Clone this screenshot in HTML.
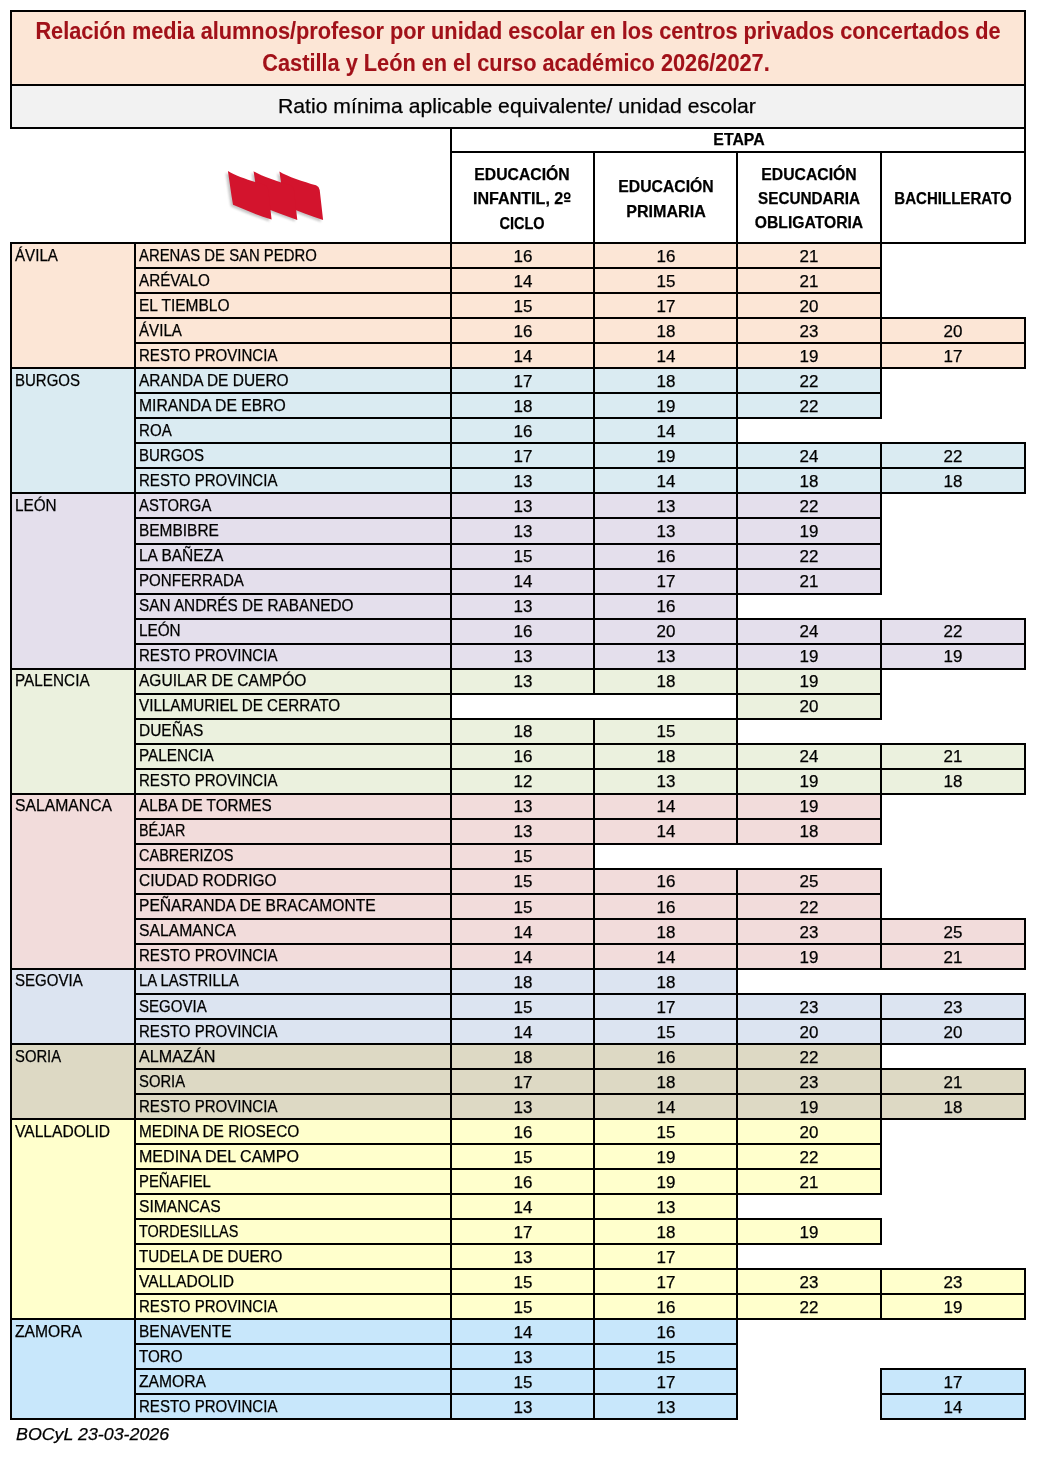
<!DOCTYPE html><html><head><meta charset="utf-8"><style>
html,body{margin:0;padding:0;background:#fff}
#p{position:relative;width:1043px;height:1457px;overflow:hidden;background:#fff;font-family:"Liberation Sans",sans-serif}
#p div{position:absolute}
#l div{background:#000}
.t{white-space:nowrap;color:#000;-webkit-text-stroke:0.25px currentColor}
</style></head><body><div id="p">
<div style="left:10px;top:10px;width:1016px;height:76px;background:#FCE6D6"></div><div style="left:10px;top:86px;width:1016px;height:43px;background:#F2F2F2"></div><div style="left:10px;top:242px;width:126px;height:127px;background:#FCE6D6"></div><div style="left:134px;top:242px;width:318px;height:27px;background:#FCE6D6"></div><div style="left:450px;top:242px;width:145px;height:27px;background:#FCE6D6"></div><div style="left:593px;top:242px;width:145px;height:27px;background:#FCE6D6"></div><div style="left:736px;top:242px;width:146px;height:27px;background:#FCE6D6"></div><div style="left:134px;top:267px;width:318px;height:27px;background:#FCE6D6"></div><div style="left:450px;top:267px;width:145px;height:27px;background:#FCE6D6"></div><div style="left:593px;top:267px;width:145px;height:27px;background:#FCE6D6"></div><div style="left:736px;top:267px;width:146px;height:27px;background:#FCE6D6"></div><div style="left:134px;top:292px;width:318px;height:27px;background:#FCE6D6"></div><div style="left:450px;top:292px;width:145px;height:27px;background:#FCE6D6"></div><div style="left:593px;top:292px;width:145px;height:27px;background:#FCE6D6"></div><div style="left:736px;top:292px;width:146px;height:27px;background:#FCE6D6"></div><div style="left:134px;top:317px;width:318px;height:27px;background:#FCE6D6"></div><div style="left:450px;top:317px;width:145px;height:27px;background:#FCE6D6"></div><div style="left:593px;top:317px;width:145px;height:27px;background:#FCE6D6"></div><div style="left:736px;top:317px;width:146px;height:27px;background:#FCE6D6"></div><div style="left:880px;top:317px;width:146px;height:27px;background:#FCE6D6"></div><div style="left:134px;top:342px;width:318px;height:27px;background:#FCE6D6"></div><div style="left:450px;top:342px;width:145px;height:27px;background:#FCE6D6"></div><div style="left:593px;top:342px;width:145px;height:27px;background:#FCE6D6"></div><div style="left:736px;top:342px;width:146px;height:27px;background:#FCE6D6"></div><div style="left:880px;top:342px;width:146px;height:27px;background:#FCE6D6"></div><div style="left:10px;top:367px;width:126px;height:127px;background:#DAEBF2"></div><div style="left:134px;top:367px;width:318px;height:27px;background:#DAEBF2"></div><div style="left:450px;top:367px;width:145px;height:27px;background:#DAEBF2"></div><div style="left:593px;top:367px;width:145px;height:27px;background:#DAEBF2"></div><div style="left:736px;top:367px;width:146px;height:27px;background:#DAEBF2"></div><div style="left:134px;top:392px;width:318px;height:27px;background:#DAEBF2"></div><div style="left:450px;top:392px;width:145px;height:27px;background:#DAEBF2"></div><div style="left:593px;top:392px;width:145px;height:27px;background:#DAEBF2"></div><div style="left:736px;top:392px;width:146px;height:27px;background:#DAEBF2"></div><div style="left:134px;top:417px;width:318px;height:27px;background:#DAEBF2"></div><div style="left:450px;top:417px;width:145px;height:27px;background:#DAEBF2"></div><div style="left:593px;top:417px;width:145px;height:27px;background:#DAEBF2"></div><div style="left:134px;top:442px;width:318px;height:27px;background:#DAEBF2"></div><div style="left:450px;top:442px;width:145px;height:27px;background:#DAEBF2"></div><div style="left:593px;top:442px;width:145px;height:27px;background:#DAEBF2"></div><div style="left:736px;top:442px;width:146px;height:27px;background:#DAEBF2"></div><div style="left:880px;top:442px;width:146px;height:27px;background:#DAEBF2"></div><div style="left:134px;top:467px;width:318px;height:27px;background:#DAEBF2"></div><div style="left:450px;top:467px;width:145px;height:27px;background:#DAEBF2"></div><div style="left:593px;top:467px;width:145px;height:27px;background:#DAEBF2"></div><div style="left:736px;top:467px;width:146px;height:27px;background:#DAEBF2"></div><div style="left:880px;top:467px;width:146px;height:27px;background:#DAEBF2"></div><div style="left:10px;top:492px;width:126px;height:178px;background:#E4DFEC"></div><div style="left:134px;top:492px;width:318px;height:27px;background:#E4DFEC"></div><div style="left:450px;top:492px;width:145px;height:27px;background:#E4DFEC"></div><div style="left:593px;top:492px;width:145px;height:27px;background:#E4DFEC"></div><div style="left:736px;top:492px;width:146px;height:27px;background:#E4DFEC"></div><div style="left:134px;top:517px;width:318px;height:28px;background:#E4DFEC"></div><div style="left:450px;top:517px;width:145px;height:28px;background:#E4DFEC"></div><div style="left:593px;top:517px;width:145px;height:28px;background:#E4DFEC"></div><div style="left:736px;top:517px;width:146px;height:28px;background:#E4DFEC"></div><div style="left:134px;top:543px;width:318px;height:27px;background:#E4DFEC"></div><div style="left:450px;top:543px;width:145px;height:27px;background:#E4DFEC"></div><div style="left:593px;top:543px;width:145px;height:27px;background:#E4DFEC"></div><div style="left:736px;top:543px;width:146px;height:27px;background:#E4DFEC"></div><div style="left:134px;top:568px;width:318px;height:27px;background:#E4DFEC"></div><div style="left:450px;top:568px;width:145px;height:27px;background:#E4DFEC"></div><div style="left:593px;top:568px;width:145px;height:27px;background:#E4DFEC"></div><div style="left:736px;top:568px;width:146px;height:27px;background:#E4DFEC"></div><div style="left:134px;top:593px;width:318px;height:27px;background:#E4DFEC"></div><div style="left:450px;top:593px;width:145px;height:27px;background:#E4DFEC"></div><div style="left:593px;top:593px;width:145px;height:27px;background:#E4DFEC"></div><div style="left:134px;top:618px;width:318px;height:27px;background:#E4DFEC"></div><div style="left:450px;top:618px;width:145px;height:27px;background:#E4DFEC"></div><div style="left:593px;top:618px;width:145px;height:27px;background:#E4DFEC"></div><div style="left:736px;top:618px;width:146px;height:27px;background:#E4DFEC"></div><div style="left:880px;top:618px;width:146px;height:27px;background:#E4DFEC"></div><div style="left:134px;top:643px;width:318px;height:27px;background:#E4DFEC"></div><div style="left:450px;top:643px;width:145px;height:27px;background:#E4DFEC"></div><div style="left:593px;top:643px;width:145px;height:27px;background:#E4DFEC"></div><div style="left:736px;top:643px;width:146px;height:27px;background:#E4DFEC"></div><div style="left:880px;top:643px;width:146px;height:27px;background:#E4DFEC"></div><div style="left:10px;top:668px;width:126px;height:127px;background:#EBF1DE"></div><div style="left:134px;top:668px;width:318px;height:27px;background:#EBF1DE"></div><div style="left:450px;top:668px;width:145px;height:27px;background:#EBF1DE"></div><div style="left:593px;top:668px;width:145px;height:27px;background:#EBF1DE"></div><div style="left:736px;top:668px;width:146px;height:27px;background:#EBF1DE"></div><div style="left:134px;top:693px;width:318px;height:27px;background:#EBF1DE"></div><div style="left:736px;top:693px;width:146px;height:27px;background:#EBF1DE"></div><div style="left:134px;top:718px;width:318px;height:27px;background:#EBF1DE"></div><div style="left:450px;top:718px;width:145px;height:27px;background:#EBF1DE"></div><div style="left:593px;top:718px;width:145px;height:27px;background:#EBF1DE"></div><div style="left:134px;top:743px;width:318px;height:27px;background:#EBF1DE"></div><div style="left:450px;top:743px;width:145px;height:27px;background:#EBF1DE"></div><div style="left:593px;top:743px;width:145px;height:27px;background:#EBF1DE"></div><div style="left:736px;top:743px;width:146px;height:27px;background:#EBF1DE"></div><div style="left:880px;top:743px;width:146px;height:27px;background:#EBF1DE"></div><div style="left:134px;top:768px;width:318px;height:27px;background:#EBF1DE"></div><div style="left:450px;top:768px;width:145px;height:27px;background:#EBF1DE"></div><div style="left:593px;top:768px;width:145px;height:27px;background:#EBF1DE"></div><div style="left:736px;top:768px;width:146px;height:27px;background:#EBF1DE"></div><div style="left:880px;top:768px;width:146px;height:27px;background:#EBF1DE"></div><div style="left:10px;top:793px;width:126px;height:177px;background:#F2DCDB"></div><div style="left:134px;top:793px;width:318px;height:27px;background:#F2DCDB"></div><div style="left:450px;top:793px;width:145px;height:27px;background:#F2DCDB"></div><div style="left:593px;top:793px;width:145px;height:27px;background:#F2DCDB"></div><div style="left:736px;top:793px;width:146px;height:27px;background:#F2DCDB"></div><div style="left:134px;top:818px;width:318px;height:27px;background:#F2DCDB"></div><div style="left:450px;top:818px;width:145px;height:27px;background:#F2DCDB"></div><div style="left:593px;top:818px;width:145px;height:27px;background:#F2DCDB"></div><div style="left:736px;top:818px;width:146px;height:27px;background:#F2DCDB"></div><div style="left:134px;top:843px;width:318px;height:27px;background:#F2DCDB"></div><div style="left:450px;top:843px;width:145px;height:27px;background:#F2DCDB"></div><div style="left:134px;top:868px;width:318px;height:27px;background:#F2DCDB"></div><div style="left:450px;top:868px;width:145px;height:27px;background:#F2DCDB"></div><div style="left:593px;top:868px;width:145px;height:27px;background:#F2DCDB"></div><div style="left:736px;top:868px;width:146px;height:27px;background:#F2DCDB"></div><div style="left:134px;top:893px;width:318px;height:27px;background:#F2DCDB"></div><div style="left:450px;top:893px;width:145px;height:27px;background:#F2DCDB"></div><div style="left:593px;top:893px;width:145px;height:27px;background:#F2DCDB"></div><div style="left:736px;top:893px;width:146px;height:27px;background:#F2DCDB"></div><div style="left:134px;top:918px;width:318px;height:27px;background:#F2DCDB"></div><div style="left:450px;top:918px;width:145px;height:27px;background:#F2DCDB"></div><div style="left:593px;top:918px;width:145px;height:27px;background:#F2DCDB"></div><div style="left:736px;top:918px;width:146px;height:27px;background:#F2DCDB"></div><div style="left:880px;top:918px;width:146px;height:27px;background:#F2DCDB"></div><div style="left:134px;top:943px;width:318px;height:27px;background:#F2DCDB"></div><div style="left:450px;top:943px;width:145px;height:27px;background:#F2DCDB"></div><div style="left:593px;top:943px;width:145px;height:27px;background:#F2DCDB"></div><div style="left:736px;top:943px;width:146px;height:27px;background:#F2DCDB"></div><div style="left:880px;top:943px;width:146px;height:27px;background:#F2DCDB"></div><div style="left:10px;top:968px;width:126px;height:77px;background:#DCE4F1"></div><div style="left:134px;top:968px;width:318px;height:27px;background:#DCE4F1"></div><div style="left:450px;top:968px;width:145px;height:27px;background:#DCE4F1"></div><div style="left:593px;top:968px;width:145px;height:27px;background:#DCE4F1"></div><div style="left:134px;top:993px;width:318px;height:27px;background:#DCE4F1"></div><div style="left:450px;top:993px;width:145px;height:27px;background:#DCE4F1"></div><div style="left:593px;top:993px;width:145px;height:27px;background:#DCE4F1"></div><div style="left:736px;top:993px;width:146px;height:27px;background:#DCE4F1"></div><div style="left:880px;top:993px;width:146px;height:27px;background:#DCE4F1"></div><div style="left:134px;top:1018px;width:318px;height:27px;background:#DCE4F1"></div><div style="left:450px;top:1018px;width:145px;height:27px;background:#DCE4F1"></div><div style="left:593px;top:1018px;width:145px;height:27px;background:#DCE4F1"></div><div style="left:736px;top:1018px;width:146px;height:27px;background:#DCE4F1"></div><div style="left:880px;top:1018px;width:146px;height:27px;background:#DCE4F1"></div><div style="left:10px;top:1043px;width:126px;height:77px;background:#DDD9C4"></div><div style="left:134px;top:1043px;width:318px;height:27px;background:#DDD9C4"></div><div style="left:450px;top:1043px;width:145px;height:27px;background:#DDD9C4"></div><div style="left:593px;top:1043px;width:145px;height:27px;background:#DDD9C4"></div><div style="left:736px;top:1043px;width:146px;height:27px;background:#DDD9C4"></div><div style="left:134px;top:1068px;width:318px;height:27px;background:#DDD9C4"></div><div style="left:450px;top:1068px;width:145px;height:27px;background:#DDD9C4"></div><div style="left:593px;top:1068px;width:145px;height:27px;background:#DDD9C4"></div><div style="left:736px;top:1068px;width:146px;height:27px;background:#DDD9C4"></div><div style="left:880px;top:1068px;width:146px;height:27px;background:#DDD9C4"></div><div style="left:134px;top:1093px;width:318px;height:27px;background:#DDD9C4"></div><div style="left:450px;top:1093px;width:145px;height:27px;background:#DDD9C4"></div><div style="left:593px;top:1093px;width:145px;height:27px;background:#DDD9C4"></div><div style="left:736px;top:1093px;width:146px;height:27px;background:#DDD9C4"></div><div style="left:880px;top:1093px;width:146px;height:27px;background:#DDD9C4"></div><div style="left:10px;top:1118px;width:126px;height:202px;background:#FFFFCC"></div><div style="left:134px;top:1118px;width:318px;height:27px;background:#FFFFCC"></div><div style="left:450px;top:1118px;width:145px;height:27px;background:#FFFFCC"></div><div style="left:593px;top:1118px;width:145px;height:27px;background:#FFFFCC"></div><div style="left:736px;top:1118px;width:146px;height:27px;background:#FFFFCC"></div><div style="left:134px;top:1143px;width:318px;height:27px;background:#FFFFCC"></div><div style="left:450px;top:1143px;width:145px;height:27px;background:#FFFFCC"></div><div style="left:593px;top:1143px;width:145px;height:27px;background:#FFFFCC"></div><div style="left:736px;top:1143px;width:146px;height:27px;background:#FFFFCC"></div><div style="left:134px;top:1168px;width:318px;height:27px;background:#FFFFCC"></div><div style="left:450px;top:1168px;width:145px;height:27px;background:#FFFFCC"></div><div style="left:593px;top:1168px;width:145px;height:27px;background:#FFFFCC"></div><div style="left:736px;top:1168px;width:146px;height:27px;background:#FFFFCC"></div><div style="left:134px;top:1193px;width:318px;height:27px;background:#FFFFCC"></div><div style="left:450px;top:1193px;width:145px;height:27px;background:#FFFFCC"></div><div style="left:593px;top:1193px;width:145px;height:27px;background:#FFFFCC"></div><div style="left:134px;top:1218px;width:318px;height:27px;background:#FFFFCC"></div><div style="left:450px;top:1218px;width:145px;height:27px;background:#FFFFCC"></div><div style="left:593px;top:1218px;width:145px;height:27px;background:#FFFFCC"></div><div style="left:736px;top:1218px;width:146px;height:27px;background:#FFFFCC"></div><div style="left:134px;top:1243px;width:318px;height:27px;background:#FFFFCC"></div><div style="left:450px;top:1243px;width:145px;height:27px;background:#FFFFCC"></div><div style="left:593px;top:1243px;width:145px;height:27px;background:#FFFFCC"></div><div style="left:134px;top:1268px;width:318px;height:27px;background:#FFFFCC"></div><div style="left:450px;top:1268px;width:145px;height:27px;background:#FFFFCC"></div><div style="left:593px;top:1268px;width:145px;height:27px;background:#FFFFCC"></div><div style="left:736px;top:1268px;width:146px;height:27px;background:#FFFFCC"></div><div style="left:880px;top:1268px;width:146px;height:27px;background:#FFFFCC"></div><div style="left:134px;top:1293px;width:318px;height:27px;background:#FFFFCC"></div><div style="left:450px;top:1293px;width:145px;height:27px;background:#FFFFCC"></div><div style="left:593px;top:1293px;width:145px;height:27px;background:#FFFFCC"></div><div style="left:736px;top:1293px;width:146px;height:27px;background:#FFFFCC"></div><div style="left:880px;top:1293px;width:146px;height:27px;background:#FFFFCC"></div><div style="left:10px;top:1318px;width:126px;height:102px;background:#C8E7FB"></div><div style="left:134px;top:1318px;width:318px;height:27px;background:#C8E7FB"></div><div style="left:450px;top:1318px;width:145px;height:27px;background:#C8E7FB"></div><div style="left:593px;top:1318px;width:145px;height:27px;background:#C8E7FB"></div><div style="left:134px;top:1343px;width:318px;height:27px;background:#C8E7FB"></div><div style="left:450px;top:1343px;width:145px;height:27px;background:#C8E7FB"></div><div style="left:593px;top:1343px;width:145px;height:27px;background:#C8E7FB"></div><div style="left:134px;top:1368px;width:318px;height:27px;background:#C8E7FB"></div><div style="left:450px;top:1368px;width:145px;height:27px;background:#C8E7FB"></div><div style="left:593px;top:1368px;width:145px;height:27px;background:#C8E7FB"></div><div style="left:880px;top:1368px;width:146px;height:27px;background:#C8E7FB"></div><div style="left:134px;top:1393px;width:318px;height:27px;background:#C8E7FB"></div><div style="left:450px;top:1393px;width:145px;height:27px;background:#C8E7FB"></div><div style="left:593px;top:1393px;width:145px;height:27px;background:#C8E7FB"></div><div style="left:880px;top:1393px;width:146px;height:27px;background:#C8E7FB"></div>
<svg style="position:absolute;left:0;top:0" width="400" height="240" viewBox="0 0 400 240">
<defs><filter id="sh" x="-30%" y="-30%" width="160%" height="160%"><feGaussianBlur stdDeviation="1.3"/></filter></defs>
<g fill="#9a9a9a" opacity="0.55" filter="url(#sh)" transform="translate(-2.2,1.8)">
<path d="M227.9,170.9 C236,176 252,181 264.5,184.8 Q267.6,186 268.2,189.5 L271.6,219.6 C259,215.5 246,210.5 233,204.8 C231,193 229.6,182 227.9,170.9 Z"/><path transform="translate(25.7,0)" d="M227.9,170.9 C236,176 252,181 264.5,184.8 Q267.6,186 268.2,189.5 L271.6,219.6 C259,215.5 246,210.5 233,204.8 C231,193 229.6,182 227.9,170.9 Z"/><path transform="translate(51.5,0.5)" d="M227.9,170.9 C236,176 252,181 264.5,184.8 Q267.6,186 268.2,189.5 L271.6,219.6 C259,215.5 246,210.5 233,204.8 C231,193 229.6,182 227.9,170.9 Z"/>
</g>
<g fill="#D3142D">
<path transform="translate(51.5,0.5)" d="M227.9,170.9 C236,176 252,181 264.5,184.8 Q267.6,186 268.2,189.5 L271.6,219.6 C259,215.5 246,210.5 233,204.8 C231,193 229.6,182 227.9,170.9 Z"/><path transform="translate(25.7,0.3)" d="M227.9,170.9 C236,176 252,181 264.5,184.8 Q267.6,186 268.2,189.5 L271.6,219.6 C259,215.5 246,210.5 233,204.8 C231,193 229.6,182 227.9,170.9 Z"/><path d="M227.9,170.9 C236,176 252,181 264.5,184.8 Q267.6,186 268.2,189.5 L271.6,219.6 C259,215.5 246,210.5 233,204.8 C231,193 229.6,182 227.9,170.9 Z"/>
</g></svg>
<div id="l"><div style="left:10px;top:10px;width:1016px;height:2px"></div><div style="left:10px;top:84px;width:1016px;height:2px"></div><div style="left:10px;top:10px;width:2px;height:76px"></div><div style="left:1024px;top:10px;width:2px;height:76px"></div><div style="left:10px;top:84px;width:1016px;height:2px"></div><div style="left:10px;top:127px;width:1016px;height:2px"></div><div style="left:10px;top:84px;width:2px;height:45px"></div><div style="left:1024px;top:84px;width:2px;height:45px"></div><div style="left:450px;top:127px;width:576px;height:2px"></div><div style="left:450px;top:151px;width:576px;height:2px"></div><div style="left:450px;top:127px;width:2px;height:26px"></div><div style="left:1024px;top:127px;width:2px;height:26px"></div><div style="left:450px;top:151px;width:145px;height:2px"></div><div style="left:450px;top:242px;width:145px;height:2px"></div><div style="left:450px;top:151px;width:2px;height:93px"></div><div style="left:593px;top:151px;width:2px;height:93px"></div><div style="left:593px;top:151px;width:145px;height:2px"></div><div style="left:593px;top:242px;width:145px;height:2px"></div><div style="left:593px;top:151px;width:2px;height:93px"></div><div style="left:736px;top:151px;width:2px;height:93px"></div><div style="left:736px;top:151px;width:146px;height:2px"></div><div style="left:736px;top:242px;width:146px;height:2px"></div><div style="left:736px;top:151px;width:2px;height:93px"></div><div style="left:880px;top:151px;width:2px;height:93px"></div><div style="left:880px;top:151px;width:146px;height:2px"></div><div style="left:880px;top:242px;width:146px;height:2px"></div><div style="left:880px;top:151px;width:2px;height:93px"></div><div style="left:1024px;top:151px;width:2px;height:93px"></div><div style="left:10px;top:242px;width:126px;height:2px"></div><div style="left:10px;top:367px;width:126px;height:2px"></div><div style="left:10px;top:242px;width:2px;height:127px"></div><div style="left:134px;top:242px;width:2px;height:127px"></div><div style="left:134px;top:242px;width:318px;height:2px"></div><div style="left:134px;top:267px;width:318px;height:2px"></div><div style="left:134px;top:242px;width:2px;height:27px"></div><div style="left:450px;top:242px;width:2px;height:27px"></div><div style="left:450px;top:242px;width:145px;height:2px"></div><div style="left:450px;top:267px;width:145px;height:2px"></div><div style="left:450px;top:242px;width:2px;height:27px"></div><div style="left:593px;top:242px;width:2px;height:27px"></div><div style="left:593px;top:242px;width:145px;height:2px"></div><div style="left:593px;top:267px;width:145px;height:2px"></div><div style="left:593px;top:242px;width:2px;height:27px"></div><div style="left:736px;top:242px;width:2px;height:27px"></div><div style="left:736px;top:242px;width:146px;height:2px"></div><div style="left:736px;top:267px;width:146px;height:2px"></div><div style="left:736px;top:242px;width:2px;height:27px"></div><div style="left:880px;top:242px;width:2px;height:27px"></div><div style="left:134px;top:267px;width:318px;height:2px"></div><div style="left:134px;top:292px;width:318px;height:2px"></div><div style="left:134px;top:267px;width:2px;height:27px"></div><div style="left:450px;top:267px;width:2px;height:27px"></div><div style="left:450px;top:267px;width:145px;height:2px"></div><div style="left:450px;top:292px;width:145px;height:2px"></div><div style="left:450px;top:267px;width:2px;height:27px"></div><div style="left:593px;top:267px;width:2px;height:27px"></div><div style="left:593px;top:267px;width:145px;height:2px"></div><div style="left:593px;top:292px;width:145px;height:2px"></div><div style="left:593px;top:267px;width:2px;height:27px"></div><div style="left:736px;top:267px;width:2px;height:27px"></div><div style="left:736px;top:267px;width:146px;height:2px"></div><div style="left:736px;top:292px;width:146px;height:2px"></div><div style="left:736px;top:267px;width:2px;height:27px"></div><div style="left:880px;top:267px;width:2px;height:27px"></div><div style="left:134px;top:292px;width:318px;height:2px"></div><div style="left:134px;top:317px;width:318px;height:2px"></div><div style="left:134px;top:292px;width:2px;height:27px"></div><div style="left:450px;top:292px;width:2px;height:27px"></div><div style="left:450px;top:292px;width:145px;height:2px"></div><div style="left:450px;top:317px;width:145px;height:2px"></div><div style="left:450px;top:292px;width:2px;height:27px"></div><div style="left:593px;top:292px;width:2px;height:27px"></div><div style="left:593px;top:292px;width:145px;height:2px"></div><div style="left:593px;top:317px;width:145px;height:2px"></div><div style="left:593px;top:292px;width:2px;height:27px"></div><div style="left:736px;top:292px;width:2px;height:27px"></div><div style="left:736px;top:292px;width:146px;height:2px"></div><div style="left:736px;top:317px;width:146px;height:2px"></div><div style="left:736px;top:292px;width:2px;height:27px"></div><div style="left:880px;top:292px;width:2px;height:27px"></div><div style="left:134px;top:317px;width:318px;height:2px"></div><div style="left:134px;top:342px;width:318px;height:2px"></div><div style="left:134px;top:317px;width:2px;height:27px"></div><div style="left:450px;top:317px;width:2px;height:27px"></div><div style="left:450px;top:317px;width:145px;height:2px"></div><div style="left:450px;top:342px;width:145px;height:2px"></div><div style="left:450px;top:317px;width:2px;height:27px"></div><div style="left:593px;top:317px;width:2px;height:27px"></div><div style="left:593px;top:317px;width:145px;height:2px"></div><div style="left:593px;top:342px;width:145px;height:2px"></div><div style="left:593px;top:317px;width:2px;height:27px"></div><div style="left:736px;top:317px;width:2px;height:27px"></div><div style="left:736px;top:317px;width:146px;height:2px"></div><div style="left:736px;top:342px;width:146px;height:2px"></div><div style="left:736px;top:317px;width:2px;height:27px"></div><div style="left:880px;top:317px;width:2px;height:27px"></div><div style="left:880px;top:317px;width:146px;height:2px"></div><div style="left:880px;top:342px;width:146px;height:2px"></div><div style="left:880px;top:317px;width:2px;height:27px"></div><div style="left:1024px;top:317px;width:2px;height:27px"></div><div style="left:134px;top:342px;width:318px;height:2px"></div><div style="left:134px;top:367px;width:318px;height:2px"></div><div style="left:134px;top:342px;width:2px;height:27px"></div><div style="left:450px;top:342px;width:2px;height:27px"></div><div style="left:450px;top:342px;width:145px;height:2px"></div><div style="left:450px;top:367px;width:145px;height:2px"></div><div style="left:450px;top:342px;width:2px;height:27px"></div><div style="left:593px;top:342px;width:2px;height:27px"></div><div style="left:593px;top:342px;width:145px;height:2px"></div><div style="left:593px;top:367px;width:145px;height:2px"></div><div style="left:593px;top:342px;width:2px;height:27px"></div><div style="left:736px;top:342px;width:2px;height:27px"></div><div style="left:736px;top:342px;width:146px;height:2px"></div><div style="left:736px;top:367px;width:146px;height:2px"></div><div style="left:736px;top:342px;width:2px;height:27px"></div><div style="left:880px;top:342px;width:2px;height:27px"></div><div style="left:880px;top:342px;width:146px;height:2px"></div><div style="left:880px;top:367px;width:146px;height:2px"></div><div style="left:880px;top:342px;width:2px;height:27px"></div><div style="left:1024px;top:342px;width:2px;height:27px"></div><div style="left:10px;top:367px;width:126px;height:2px"></div><div style="left:10px;top:492px;width:126px;height:2px"></div><div style="left:10px;top:367px;width:2px;height:127px"></div><div style="left:134px;top:367px;width:2px;height:127px"></div><div style="left:134px;top:367px;width:318px;height:2px"></div><div style="left:134px;top:392px;width:318px;height:2px"></div><div style="left:134px;top:367px;width:2px;height:27px"></div><div style="left:450px;top:367px;width:2px;height:27px"></div><div style="left:450px;top:367px;width:145px;height:2px"></div><div style="left:450px;top:392px;width:145px;height:2px"></div><div style="left:450px;top:367px;width:2px;height:27px"></div><div style="left:593px;top:367px;width:2px;height:27px"></div><div style="left:593px;top:367px;width:145px;height:2px"></div><div style="left:593px;top:392px;width:145px;height:2px"></div><div style="left:593px;top:367px;width:2px;height:27px"></div><div style="left:736px;top:367px;width:2px;height:27px"></div><div style="left:736px;top:367px;width:146px;height:2px"></div><div style="left:736px;top:392px;width:146px;height:2px"></div><div style="left:736px;top:367px;width:2px;height:27px"></div><div style="left:880px;top:367px;width:2px;height:27px"></div><div style="left:134px;top:392px;width:318px;height:2px"></div><div style="left:134px;top:417px;width:318px;height:2px"></div><div style="left:134px;top:392px;width:2px;height:27px"></div><div style="left:450px;top:392px;width:2px;height:27px"></div><div style="left:450px;top:392px;width:145px;height:2px"></div><div style="left:450px;top:417px;width:145px;height:2px"></div><div style="left:450px;top:392px;width:2px;height:27px"></div><div style="left:593px;top:392px;width:2px;height:27px"></div><div style="left:593px;top:392px;width:145px;height:2px"></div><div style="left:593px;top:417px;width:145px;height:2px"></div><div style="left:593px;top:392px;width:2px;height:27px"></div><div style="left:736px;top:392px;width:2px;height:27px"></div><div style="left:736px;top:392px;width:146px;height:2px"></div><div style="left:736px;top:417px;width:146px;height:2px"></div><div style="left:736px;top:392px;width:2px;height:27px"></div><div style="left:880px;top:392px;width:2px;height:27px"></div><div style="left:134px;top:417px;width:318px;height:2px"></div><div style="left:134px;top:442px;width:318px;height:2px"></div><div style="left:134px;top:417px;width:2px;height:27px"></div><div style="left:450px;top:417px;width:2px;height:27px"></div><div style="left:450px;top:417px;width:145px;height:2px"></div><div style="left:450px;top:442px;width:145px;height:2px"></div><div style="left:450px;top:417px;width:2px;height:27px"></div><div style="left:593px;top:417px;width:2px;height:27px"></div><div style="left:593px;top:417px;width:145px;height:2px"></div><div style="left:593px;top:442px;width:145px;height:2px"></div><div style="left:593px;top:417px;width:2px;height:27px"></div><div style="left:736px;top:417px;width:2px;height:27px"></div><div style="left:134px;top:442px;width:318px;height:2px"></div><div style="left:134px;top:467px;width:318px;height:2px"></div><div style="left:134px;top:442px;width:2px;height:27px"></div><div style="left:450px;top:442px;width:2px;height:27px"></div><div style="left:450px;top:442px;width:145px;height:2px"></div><div style="left:450px;top:467px;width:145px;height:2px"></div><div style="left:450px;top:442px;width:2px;height:27px"></div><div style="left:593px;top:442px;width:2px;height:27px"></div><div style="left:593px;top:442px;width:145px;height:2px"></div><div style="left:593px;top:467px;width:145px;height:2px"></div><div style="left:593px;top:442px;width:2px;height:27px"></div><div style="left:736px;top:442px;width:2px;height:27px"></div><div style="left:736px;top:442px;width:146px;height:2px"></div><div style="left:736px;top:467px;width:146px;height:2px"></div><div style="left:736px;top:442px;width:2px;height:27px"></div><div style="left:880px;top:442px;width:2px;height:27px"></div><div style="left:880px;top:442px;width:146px;height:2px"></div><div style="left:880px;top:467px;width:146px;height:2px"></div><div style="left:880px;top:442px;width:2px;height:27px"></div><div style="left:1024px;top:442px;width:2px;height:27px"></div><div style="left:134px;top:467px;width:318px;height:2px"></div><div style="left:134px;top:492px;width:318px;height:2px"></div><div style="left:134px;top:467px;width:2px;height:27px"></div><div style="left:450px;top:467px;width:2px;height:27px"></div><div style="left:450px;top:467px;width:145px;height:2px"></div><div style="left:450px;top:492px;width:145px;height:2px"></div><div style="left:450px;top:467px;width:2px;height:27px"></div><div style="left:593px;top:467px;width:2px;height:27px"></div><div style="left:593px;top:467px;width:145px;height:2px"></div><div style="left:593px;top:492px;width:145px;height:2px"></div><div style="left:593px;top:467px;width:2px;height:27px"></div><div style="left:736px;top:467px;width:2px;height:27px"></div><div style="left:736px;top:467px;width:146px;height:2px"></div><div style="left:736px;top:492px;width:146px;height:2px"></div><div style="left:736px;top:467px;width:2px;height:27px"></div><div style="left:880px;top:467px;width:2px;height:27px"></div><div style="left:880px;top:467px;width:146px;height:2px"></div><div style="left:880px;top:492px;width:146px;height:2px"></div><div style="left:880px;top:467px;width:2px;height:27px"></div><div style="left:1024px;top:467px;width:2px;height:27px"></div><div style="left:10px;top:492px;width:126px;height:2px"></div><div style="left:10px;top:668px;width:126px;height:2px"></div><div style="left:10px;top:492px;width:2px;height:178px"></div><div style="left:134px;top:492px;width:2px;height:178px"></div><div style="left:134px;top:492px;width:318px;height:2px"></div><div style="left:134px;top:517px;width:318px;height:2px"></div><div style="left:134px;top:492px;width:2px;height:27px"></div><div style="left:450px;top:492px;width:2px;height:27px"></div><div style="left:450px;top:492px;width:145px;height:2px"></div><div style="left:450px;top:517px;width:145px;height:2px"></div><div style="left:450px;top:492px;width:2px;height:27px"></div><div style="left:593px;top:492px;width:2px;height:27px"></div><div style="left:593px;top:492px;width:145px;height:2px"></div><div style="left:593px;top:517px;width:145px;height:2px"></div><div style="left:593px;top:492px;width:2px;height:27px"></div><div style="left:736px;top:492px;width:2px;height:27px"></div><div style="left:736px;top:492px;width:146px;height:2px"></div><div style="left:736px;top:517px;width:146px;height:2px"></div><div style="left:736px;top:492px;width:2px;height:27px"></div><div style="left:880px;top:492px;width:2px;height:27px"></div><div style="left:134px;top:517px;width:318px;height:2px"></div><div style="left:134px;top:543px;width:318px;height:2px"></div><div style="left:134px;top:517px;width:2px;height:28px"></div><div style="left:450px;top:517px;width:2px;height:28px"></div><div style="left:450px;top:517px;width:145px;height:2px"></div><div style="left:450px;top:543px;width:145px;height:2px"></div><div style="left:450px;top:517px;width:2px;height:28px"></div><div style="left:593px;top:517px;width:2px;height:28px"></div><div style="left:593px;top:517px;width:145px;height:2px"></div><div style="left:593px;top:543px;width:145px;height:2px"></div><div style="left:593px;top:517px;width:2px;height:28px"></div><div style="left:736px;top:517px;width:2px;height:28px"></div><div style="left:736px;top:517px;width:146px;height:2px"></div><div style="left:736px;top:543px;width:146px;height:2px"></div><div style="left:736px;top:517px;width:2px;height:28px"></div><div style="left:880px;top:517px;width:2px;height:28px"></div><div style="left:134px;top:543px;width:318px;height:2px"></div><div style="left:134px;top:568px;width:318px;height:2px"></div><div style="left:134px;top:543px;width:2px;height:27px"></div><div style="left:450px;top:543px;width:2px;height:27px"></div><div style="left:450px;top:543px;width:145px;height:2px"></div><div style="left:450px;top:568px;width:145px;height:2px"></div><div style="left:450px;top:543px;width:2px;height:27px"></div><div style="left:593px;top:543px;width:2px;height:27px"></div><div style="left:593px;top:543px;width:145px;height:2px"></div><div style="left:593px;top:568px;width:145px;height:2px"></div><div style="left:593px;top:543px;width:2px;height:27px"></div><div style="left:736px;top:543px;width:2px;height:27px"></div><div style="left:736px;top:543px;width:146px;height:2px"></div><div style="left:736px;top:568px;width:146px;height:2px"></div><div style="left:736px;top:543px;width:2px;height:27px"></div><div style="left:880px;top:543px;width:2px;height:27px"></div><div style="left:134px;top:568px;width:318px;height:2px"></div><div style="left:134px;top:593px;width:318px;height:2px"></div><div style="left:134px;top:568px;width:2px;height:27px"></div><div style="left:450px;top:568px;width:2px;height:27px"></div><div style="left:450px;top:568px;width:145px;height:2px"></div><div style="left:450px;top:593px;width:145px;height:2px"></div><div style="left:450px;top:568px;width:2px;height:27px"></div><div style="left:593px;top:568px;width:2px;height:27px"></div><div style="left:593px;top:568px;width:145px;height:2px"></div><div style="left:593px;top:593px;width:145px;height:2px"></div><div style="left:593px;top:568px;width:2px;height:27px"></div><div style="left:736px;top:568px;width:2px;height:27px"></div><div style="left:736px;top:568px;width:146px;height:2px"></div><div style="left:736px;top:593px;width:146px;height:2px"></div><div style="left:736px;top:568px;width:2px;height:27px"></div><div style="left:880px;top:568px;width:2px;height:27px"></div><div style="left:134px;top:593px;width:318px;height:2px"></div><div style="left:134px;top:618px;width:318px;height:2px"></div><div style="left:134px;top:593px;width:2px;height:27px"></div><div style="left:450px;top:593px;width:2px;height:27px"></div><div style="left:450px;top:593px;width:145px;height:2px"></div><div style="left:450px;top:618px;width:145px;height:2px"></div><div style="left:450px;top:593px;width:2px;height:27px"></div><div style="left:593px;top:593px;width:2px;height:27px"></div><div style="left:593px;top:593px;width:145px;height:2px"></div><div style="left:593px;top:618px;width:145px;height:2px"></div><div style="left:593px;top:593px;width:2px;height:27px"></div><div style="left:736px;top:593px;width:2px;height:27px"></div><div style="left:134px;top:618px;width:318px;height:2px"></div><div style="left:134px;top:643px;width:318px;height:2px"></div><div style="left:134px;top:618px;width:2px;height:27px"></div><div style="left:450px;top:618px;width:2px;height:27px"></div><div style="left:450px;top:618px;width:145px;height:2px"></div><div style="left:450px;top:643px;width:145px;height:2px"></div><div style="left:450px;top:618px;width:2px;height:27px"></div><div style="left:593px;top:618px;width:2px;height:27px"></div><div style="left:593px;top:618px;width:145px;height:2px"></div><div style="left:593px;top:643px;width:145px;height:2px"></div><div style="left:593px;top:618px;width:2px;height:27px"></div><div style="left:736px;top:618px;width:2px;height:27px"></div><div style="left:736px;top:618px;width:146px;height:2px"></div><div style="left:736px;top:643px;width:146px;height:2px"></div><div style="left:736px;top:618px;width:2px;height:27px"></div><div style="left:880px;top:618px;width:2px;height:27px"></div><div style="left:880px;top:618px;width:146px;height:2px"></div><div style="left:880px;top:643px;width:146px;height:2px"></div><div style="left:880px;top:618px;width:2px;height:27px"></div><div style="left:1024px;top:618px;width:2px;height:27px"></div><div style="left:134px;top:643px;width:318px;height:2px"></div><div style="left:134px;top:668px;width:318px;height:2px"></div><div style="left:134px;top:643px;width:2px;height:27px"></div><div style="left:450px;top:643px;width:2px;height:27px"></div><div style="left:450px;top:643px;width:145px;height:2px"></div><div style="left:450px;top:668px;width:145px;height:2px"></div><div style="left:450px;top:643px;width:2px;height:27px"></div><div style="left:593px;top:643px;width:2px;height:27px"></div><div style="left:593px;top:643px;width:145px;height:2px"></div><div style="left:593px;top:668px;width:145px;height:2px"></div><div style="left:593px;top:643px;width:2px;height:27px"></div><div style="left:736px;top:643px;width:2px;height:27px"></div><div style="left:736px;top:643px;width:146px;height:2px"></div><div style="left:736px;top:668px;width:146px;height:2px"></div><div style="left:736px;top:643px;width:2px;height:27px"></div><div style="left:880px;top:643px;width:2px;height:27px"></div><div style="left:880px;top:643px;width:146px;height:2px"></div><div style="left:880px;top:668px;width:146px;height:2px"></div><div style="left:880px;top:643px;width:2px;height:27px"></div><div style="left:1024px;top:643px;width:2px;height:27px"></div><div style="left:10px;top:668px;width:126px;height:2px"></div><div style="left:10px;top:793px;width:126px;height:2px"></div><div style="left:10px;top:668px;width:2px;height:127px"></div><div style="left:134px;top:668px;width:2px;height:127px"></div><div style="left:134px;top:668px;width:318px;height:2px"></div><div style="left:134px;top:693px;width:318px;height:2px"></div><div style="left:134px;top:668px;width:2px;height:27px"></div><div style="left:450px;top:668px;width:2px;height:27px"></div><div style="left:450px;top:668px;width:145px;height:2px"></div><div style="left:450px;top:693px;width:145px;height:2px"></div><div style="left:450px;top:668px;width:2px;height:27px"></div><div style="left:593px;top:668px;width:2px;height:27px"></div><div style="left:593px;top:668px;width:145px;height:2px"></div><div style="left:593px;top:693px;width:145px;height:2px"></div><div style="left:593px;top:668px;width:2px;height:27px"></div><div style="left:736px;top:668px;width:2px;height:27px"></div><div style="left:736px;top:668px;width:146px;height:2px"></div><div style="left:736px;top:693px;width:146px;height:2px"></div><div style="left:736px;top:668px;width:2px;height:27px"></div><div style="left:880px;top:668px;width:2px;height:27px"></div><div style="left:134px;top:693px;width:318px;height:2px"></div><div style="left:134px;top:718px;width:318px;height:2px"></div><div style="left:134px;top:693px;width:2px;height:27px"></div><div style="left:450px;top:693px;width:2px;height:27px"></div><div style="left:736px;top:693px;width:146px;height:2px"></div><div style="left:736px;top:718px;width:146px;height:2px"></div><div style="left:736px;top:693px;width:2px;height:27px"></div><div style="left:880px;top:693px;width:2px;height:27px"></div><div style="left:134px;top:718px;width:318px;height:2px"></div><div style="left:134px;top:743px;width:318px;height:2px"></div><div style="left:134px;top:718px;width:2px;height:27px"></div><div style="left:450px;top:718px;width:2px;height:27px"></div><div style="left:450px;top:718px;width:145px;height:2px"></div><div style="left:450px;top:743px;width:145px;height:2px"></div><div style="left:450px;top:718px;width:2px;height:27px"></div><div style="left:593px;top:718px;width:2px;height:27px"></div><div style="left:593px;top:718px;width:145px;height:2px"></div><div style="left:593px;top:743px;width:145px;height:2px"></div><div style="left:593px;top:718px;width:2px;height:27px"></div><div style="left:736px;top:718px;width:2px;height:27px"></div><div style="left:134px;top:743px;width:318px;height:2px"></div><div style="left:134px;top:768px;width:318px;height:2px"></div><div style="left:134px;top:743px;width:2px;height:27px"></div><div style="left:450px;top:743px;width:2px;height:27px"></div><div style="left:450px;top:743px;width:145px;height:2px"></div><div style="left:450px;top:768px;width:145px;height:2px"></div><div style="left:450px;top:743px;width:2px;height:27px"></div><div style="left:593px;top:743px;width:2px;height:27px"></div><div style="left:593px;top:743px;width:145px;height:2px"></div><div style="left:593px;top:768px;width:145px;height:2px"></div><div style="left:593px;top:743px;width:2px;height:27px"></div><div style="left:736px;top:743px;width:2px;height:27px"></div><div style="left:736px;top:743px;width:146px;height:2px"></div><div style="left:736px;top:768px;width:146px;height:2px"></div><div style="left:736px;top:743px;width:2px;height:27px"></div><div style="left:880px;top:743px;width:2px;height:27px"></div><div style="left:880px;top:743px;width:146px;height:2px"></div><div style="left:880px;top:768px;width:146px;height:2px"></div><div style="left:880px;top:743px;width:2px;height:27px"></div><div style="left:1024px;top:743px;width:2px;height:27px"></div><div style="left:134px;top:768px;width:318px;height:2px"></div><div style="left:134px;top:793px;width:318px;height:2px"></div><div style="left:134px;top:768px;width:2px;height:27px"></div><div style="left:450px;top:768px;width:2px;height:27px"></div><div style="left:450px;top:768px;width:145px;height:2px"></div><div style="left:450px;top:793px;width:145px;height:2px"></div><div style="left:450px;top:768px;width:2px;height:27px"></div><div style="left:593px;top:768px;width:2px;height:27px"></div><div style="left:593px;top:768px;width:145px;height:2px"></div><div style="left:593px;top:793px;width:145px;height:2px"></div><div style="left:593px;top:768px;width:2px;height:27px"></div><div style="left:736px;top:768px;width:2px;height:27px"></div><div style="left:736px;top:768px;width:146px;height:2px"></div><div style="left:736px;top:793px;width:146px;height:2px"></div><div style="left:736px;top:768px;width:2px;height:27px"></div><div style="left:880px;top:768px;width:2px;height:27px"></div><div style="left:880px;top:768px;width:146px;height:2px"></div><div style="left:880px;top:793px;width:146px;height:2px"></div><div style="left:880px;top:768px;width:2px;height:27px"></div><div style="left:1024px;top:768px;width:2px;height:27px"></div><div style="left:10px;top:793px;width:126px;height:2px"></div><div style="left:10px;top:968px;width:126px;height:2px"></div><div style="left:10px;top:793px;width:2px;height:177px"></div><div style="left:134px;top:793px;width:2px;height:177px"></div><div style="left:134px;top:793px;width:318px;height:2px"></div><div style="left:134px;top:818px;width:318px;height:2px"></div><div style="left:134px;top:793px;width:2px;height:27px"></div><div style="left:450px;top:793px;width:2px;height:27px"></div><div style="left:450px;top:793px;width:145px;height:2px"></div><div style="left:450px;top:818px;width:145px;height:2px"></div><div style="left:450px;top:793px;width:2px;height:27px"></div><div style="left:593px;top:793px;width:2px;height:27px"></div><div style="left:593px;top:793px;width:145px;height:2px"></div><div style="left:593px;top:818px;width:145px;height:2px"></div><div style="left:593px;top:793px;width:2px;height:27px"></div><div style="left:736px;top:793px;width:2px;height:27px"></div><div style="left:736px;top:793px;width:146px;height:2px"></div><div style="left:736px;top:818px;width:146px;height:2px"></div><div style="left:736px;top:793px;width:2px;height:27px"></div><div style="left:880px;top:793px;width:2px;height:27px"></div><div style="left:134px;top:818px;width:318px;height:2px"></div><div style="left:134px;top:843px;width:318px;height:2px"></div><div style="left:134px;top:818px;width:2px;height:27px"></div><div style="left:450px;top:818px;width:2px;height:27px"></div><div style="left:450px;top:818px;width:145px;height:2px"></div><div style="left:450px;top:843px;width:145px;height:2px"></div><div style="left:450px;top:818px;width:2px;height:27px"></div><div style="left:593px;top:818px;width:2px;height:27px"></div><div style="left:593px;top:818px;width:145px;height:2px"></div><div style="left:593px;top:843px;width:145px;height:2px"></div><div style="left:593px;top:818px;width:2px;height:27px"></div><div style="left:736px;top:818px;width:2px;height:27px"></div><div style="left:736px;top:818px;width:146px;height:2px"></div><div style="left:736px;top:843px;width:146px;height:2px"></div><div style="left:736px;top:818px;width:2px;height:27px"></div><div style="left:880px;top:818px;width:2px;height:27px"></div><div style="left:134px;top:843px;width:318px;height:2px"></div><div style="left:134px;top:868px;width:318px;height:2px"></div><div style="left:134px;top:843px;width:2px;height:27px"></div><div style="left:450px;top:843px;width:2px;height:27px"></div><div style="left:450px;top:843px;width:145px;height:2px"></div><div style="left:450px;top:868px;width:145px;height:2px"></div><div style="left:450px;top:843px;width:2px;height:27px"></div><div style="left:593px;top:843px;width:2px;height:27px"></div><div style="left:134px;top:868px;width:318px;height:2px"></div><div style="left:134px;top:893px;width:318px;height:2px"></div><div style="left:134px;top:868px;width:2px;height:27px"></div><div style="left:450px;top:868px;width:2px;height:27px"></div><div style="left:450px;top:868px;width:145px;height:2px"></div><div style="left:450px;top:893px;width:145px;height:2px"></div><div style="left:450px;top:868px;width:2px;height:27px"></div><div style="left:593px;top:868px;width:2px;height:27px"></div><div style="left:593px;top:868px;width:145px;height:2px"></div><div style="left:593px;top:893px;width:145px;height:2px"></div><div style="left:593px;top:868px;width:2px;height:27px"></div><div style="left:736px;top:868px;width:2px;height:27px"></div><div style="left:736px;top:868px;width:146px;height:2px"></div><div style="left:736px;top:893px;width:146px;height:2px"></div><div style="left:736px;top:868px;width:2px;height:27px"></div><div style="left:880px;top:868px;width:2px;height:27px"></div><div style="left:134px;top:893px;width:318px;height:2px"></div><div style="left:134px;top:918px;width:318px;height:2px"></div><div style="left:134px;top:893px;width:2px;height:27px"></div><div style="left:450px;top:893px;width:2px;height:27px"></div><div style="left:450px;top:893px;width:145px;height:2px"></div><div style="left:450px;top:918px;width:145px;height:2px"></div><div style="left:450px;top:893px;width:2px;height:27px"></div><div style="left:593px;top:893px;width:2px;height:27px"></div><div style="left:593px;top:893px;width:145px;height:2px"></div><div style="left:593px;top:918px;width:145px;height:2px"></div><div style="left:593px;top:893px;width:2px;height:27px"></div><div style="left:736px;top:893px;width:2px;height:27px"></div><div style="left:736px;top:893px;width:146px;height:2px"></div><div style="left:736px;top:918px;width:146px;height:2px"></div><div style="left:736px;top:893px;width:2px;height:27px"></div><div style="left:880px;top:893px;width:2px;height:27px"></div><div style="left:134px;top:918px;width:318px;height:2px"></div><div style="left:134px;top:943px;width:318px;height:2px"></div><div style="left:134px;top:918px;width:2px;height:27px"></div><div style="left:450px;top:918px;width:2px;height:27px"></div><div style="left:450px;top:918px;width:145px;height:2px"></div><div style="left:450px;top:943px;width:145px;height:2px"></div><div style="left:450px;top:918px;width:2px;height:27px"></div><div style="left:593px;top:918px;width:2px;height:27px"></div><div style="left:593px;top:918px;width:145px;height:2px"></div><div style="left:593px;top:943px;width:145px;height:2px"></div><div style="left:593px;top:918px;width:2px;height:27px"></div><div style="left:736px;top:918px;width:2px;height:27px"></div><div style="left:736px;top:918px;width:146px;height:2px"></div><div style="left:736px;top:943px;width:146px;height:2px"></div><div style="left:736px;top:918px;width:2px;height:27px"></div><div style="left:880px;top:918px;width:2px;height:27px"></div><div style="left:880px;top:918px;width:146px;height:2px"></div><div style="left:880px;top:943px;width:146px;height:2px"></div><div style="left:880px;top:918px;width:2px;height:27px"></div><div style="left:1024px;top:918px;width:2px;height:27px"></div><div style="left:134px;top:943px;width:318px;height:2px"></div><div style="left:134px;top:968px;width:318px;height:2px"></div><div style="left:134px;top:943px;width:2px;height:27px"></div><div style="left:450px;top:943px;width:2px;height:27px"></div><div style="left:450px;top:943px;width:145px;height:2px"></div><div style="left:450px;top:968px;width:145px;height:2px"></div><div style="left:450px;top:943px;width:2px;height:27px"></div><div style="left:593px;top:943px;width:2px;height:27px"></div><div style="left:593px;top:943px;width:145px;height:2px"></div><div style="left:593px;top:968px;width:145px;height:2px"></div><div style="left:593px;top:943px;width:2px;height:27px"></div><div style="left:736px;top:943px;width:2px;height:27px"></div><div style="left:736px;top:943px;width:146px;height:2px"></div><div style="left:736px;top:968px;width:146px;height:2px"></div><div style="left:736px;top:943px;width:2px;height:27px"></div><div style="left:880px;top:943px;width:2px;height:27px"></div><div style="left:880px;top:943px;width:146px;height:2px"></div><div style="left:880px;top:968px;width:146px;height:2px"></div><div style="left:880px;top:943px;width:2px;height:27px"></div><div style="left:1024px;top:943px;width:2px;height:27px"></div><div style="left:10px;top:968px;width:126px;height:2px"></div><div style="left:10px;top:1043px;width:126px;height:2px"></div><div style="left:10px;top:968px;width:2px;height:77px"></div><div style="left:134px;top:968px;width:2px;height:77px"></div><div style="left:134px;top:968px;width:318px;height:2px"></div><div style="left:134px;top:993px;width:318px;height:2px"></div><div style="left:134px;top:968px;width:2px;height:27px"></div><div style="left:450px;top:968px;width:2px;height:27px"></div><div style="left:450px;top:968px;width:145px;height:2px"></div><div style="left:450px;top:993px;width:145px;height:2px"></div><div style="left:450px;top:968px;width:2px;height:27px"></div><div style="left:593px;top:968px;width:2px;height:27px"></div><div style="left:593px;top:968px;width:145px;height:2px"></div><div style="left:593px;top:993px;width:145px;height:2px"></div><div style="left:593px;top:968px;width:2px;height:27px"></div><div style="left:736px;top:968px;width:2px;height:27px"></div><div style="left:134px;top:993px;width:318px;height:2px"></div><div style="left:134px;top:1018px;width:318px;height:2px"></div><div style="left:134px;top:993px;width:2px;height:27px"></div><div style="left:450px;top:993px;width:2px;height:27px"></div><div style="left:450px;top:993px;width:145px;height:2px"></div><div style="left:450px;top:1018px;width:145px;height:2px"></div><div style="left:450px;top:993px;width:2px;height:27px"></div><div style="left:593px;top:993px;width:2px;height:27px"></div><div style="left:593px;top:993px;width:145px;height:2px"></div><div style="left:593px;top:1018px;width:145px;height:2px"></div><div style="left:593px;top:993px;width:2px;height:27px"></div><div style="left:736px;top:993px;width:2px;height:27px"></div><div style="left:736px;top:993px;width:146px;height:2px"></div><div style="left:736px;top:1018px;width:146px;height:2px"></div><div style="left:736px;top:993px;width:2px;height:27px"></div><div style="left:880px;top:993px;width:2px;height:27px"></div><div style="left:880px;top:993px;width:146px;height:2px"></div><div style="left:880px;top:1018px;width:146px;height:2px"></div><div style="left:880px;top:993px;width:2px;height:27px"></div><div style="left:1024px;top:993px;width:2px;height:27px"></div><div style="left:134px;top:1018px;width:318px;height:2px"></div><div style="left:134px;top:1043px;width:318px;height:2px"></div><div style="left:134px;top:1018px;width:2px;height:27px"></div><div style="left:450px;top:1018px;width:2px;height:27px"></div><div style="left:450px;top:1018px;width:145px;height:2px"></div><div style="left:450px;top:1043px;width:145px;height:2px"></div><div style="left:450px;top:1018px;width:2px;height:27px"></div><div style="left:593px;top:1018px;width:2px;height:27px"></div><div style="left:593px;top:1018px;width:145px;height:2px"></div><div style="left:593px;top:1043px;width:145px;height:2px"></div><div style="left:593px;top:1018px;width:2px;height:27px"></div><div style="left:736px;top:1018px;width:2px;height:27px"></div><div style="left:736px;top:1018px;width:146px;height:2px"></div><div style="left:736px;top:1043px;width:146px;height:2px"></div><div style="left:736px;top:1018px;width:2px;height:27px"></div><div style="left:880px;top:1018px;width:2px;height:27px"></div><div style="left:880px;top:1018px;width:146px;height:2px"></div><div style="left:880px;top:1043px;width:146px;height:2px"></div><div style="left:880px;top:1018px;width:2px;height:27px"></div><div style="left:1024px;top:1018px;width:2px;height:27px"></div><div style="left:10px;top:1043px;width:126px;height:2px"></div><div style="left:10px;top:1118px;width:126px;height:2px"></div><div style="left:10px;top:1043px;width:2px;height:77px"></div><div style="left:134px;top:1043px;width:2px;height:77px"></div><div style="left:134px;top:1043px;width:318px;height:2px"></div><div style="left:134px;top:1068px;width:318px;height:2px"></div><div style="left:134px;top:1043px;width:2px;height:27px"></div><div style="left:450px;top:1043px;width:2px;height:27px"></div><div style="left:450px;top:1043px;width:145px;height:2px"></div><div style="left:450px;top:1068px;width:145px;height:2px"></div><div style="left:450px;top:1043px;width:2px;height:27px"></div><div style="left:593px;top:1043px;width:2px;height:27px"></div><div style="left:593px;top:1043px;width:145px;height:2px"></div><div style="left:593px;top:1068px;width:145px;height:2px"></div><div style="left:593px;top:1043px;width:2px;height:27px"></div><div style="left:736px;top:1043px;width:2px;height:27px"></div><div style="left:736px;top:1043px;width:146px;height:2px"></div><div style="left:736px;top:1068px;width:146px;height:2px"></div><div style="left:736px;top:1043px;width:2px;height:27px"></div><div style="left:880px;top:1043px;width:2px;height:27px"></div><div style="left:134px;top:1068px;width:318px;height:2px"></div><div style="left:134px;top:1093px;width:318px;height:2px"></div><div style="left:134px;top:1068px;width:2px;height:27px"></div><div style="left:450px;top:1068px;width:2px;height:27px"></div><div style="left:450px;top:1068px;width:145px;height:2px"></div><div style="left:450px;top:1093px;width:145px;height:2px"></div><div style="left:450px;top:1068px;width:2px;height:27px"></div><div style="left:593px;top:1068px;width:2px;height:27px"></div><div style="left:593px;top:1068px;width:145px;height:2px"></div><div style="left:593px;top:1093px;width:145px;height:2px"></div><div style="left:593px;top:1068px;width:2px;height:27px"></div><div style="left:736px;top:1068px;width:2px;height:27px"></div><div style="left:736px;top:1068px;width:146px;height:2px"></div><div style="left:736px;top:1093px;width:146px;height:2px"></div><div style="left:736px;top:1068px;width:2px;height:27px"></div><div style="left:880px;top:1068px;width:2px;height:27px"></div><div style="left:880px;top:1068px;width:146px;height:2px"></div><div style="left:880px;top:1093px;width:146px;height:2px"></div><div style="left:880px;top:1068px;width:2px;height:27px"></div><div style="left:1024px;top:1068px;width:2px;height:27px"></div><div style="left:134px;top:1093px;width:318px;height:2px"></div><div style="left:134px;top:1118px;width:318px;height:2px"></div><div style="left:134px;top:1093px;width:2px;height:27px"></div><div style="left:450px;top:1093px;width:2px;height:27px"></div><div style="left:450px;top:1093px;width:145px;height:2px"></div><div style="left:450px;top:1118px;width:145px;height:2px"></div><div style="left:450px;top:1093px;width:2px;height:27px"></div><div style="left:593px;top:1093px;width:2px;height:27px"></div><div style="left:593px;top:1093px;width:145px;height:2px"></div><div style="left:593px;top:1118px;width:145px;height:2px"></div><div style="left:593px;top:1093px;width:2px;height:27px"></div><div style="left:736px;top:1093px;width:2px;height:27px"></div><div style="left:736px;top:1093px;width:146px;height:2px"></div><div style="left:736px;top:1118px;width:146px;height:2px"></div><div style="left:736px;top:1093px;width:2px;height:27px"></div><div style="left:880px;top:1093px;width:2px;height:27px"></div><div style="left:880px;top:1093px;width:146px;height:2px"></div><div style="left:880px;top:1118px;width:146px;height:2px"></div><div style="left:880px;top:1093px;width:2px;height:27px"></div><div style="left:1024px;top:1093px;width:2px;height:27px"></div><div style="left:10px;top:1118px;width:126px;height:2px"></div><div style="left:10px;top:1318px;width:126px;height:2px"></div><div style="left:10px;top:1118px;width:2px;height:202px"></div><div style="left:134px;top:1118px;width:2px;height:202px"></div><div style="left:134px;top:1118px;width:318px;height:2px"></div><div style="left:134px;top:1143px;width:318px;height:2px"></div><div style="left:134px;top:1118px;width:2px;height:27px"></div><div style="left:450px;top:1118px;width:2px;height:27px"></div><div style="left:450px;top:1118px;width:145px;height:2px"></div><div style="left:450px;top:1143px;width:145px;height:2px"></div><div style="left:450px;top:1118px;width:2px;height:27px"></div><div style="left:593px;top:1118px;width:2px;height:27px"></div><div style="left:593px;top:1118px;width:145px;height:2px"></div><div style="left:593px;top:1143px;width:145px;height:2px"></div><div style="left:593px;top:1118px;width:2px;height:27px"></div><div style="left:736px;top:1118px;width:2px;height:27px"></div><div style="left:736px;top:1118px;width:146px;height:2px"></div><div style="left:736px;top:1143px;width:146px;height:2px"></div><div style="left:736px;top:1118px;width:2px;height:27px"></div><div style="left:880px;top:1118px;width:2px;height:27px"></div><div style="left:134px;top:1143px;width:318px;height:2px"></div><div style="left:134px;top:1168px;width:318px;height:2px"></div><div style="left:134px;top:1143px;width:2px;height:27px"></div><div style="left:450px;top:1143px;width:2px;height:27px"></div><div style="left:450px;top:1143px;width:145px;height:2px"></div><div style="left:450px;top:1168px;width:145px;height:2px"></div><div style="left:450px;top:1143px;width:2px;height:27px"></div><div style="left:593px;top:1143px;width:2px;height:27px"></div><div style="left:593px;top:1143px;width:145px;height:2px"></div><div style="left:593px;top:1168px;width:145px;height:2px"></div><div style="left:593px;top:1143px;width:2px;height:27px"></div><div style="left:736px;top:1143px;width:2px;height:27px"></div><div style="left:736px;top:1143px;width:146px;height:2px"></div><div style="left:736px;top:1168px;width:146px;height:2px"></div><div style="left:736px;top:1143px;width:2px;height:27px"></div><div style="left:880px;top:1143px;width:2px;height:27px"></div><div style="left:134px;top:1168px;width:318px;height:2px"></div><div style="left:134px;top:1193px;width:318px;height:2px"></div><div style="left:134px;top:1168px;width:2px;height:27px"></div><div style="left:450px;top:1168px;width:2px;height:27px"></div><div style="left:450px;top:1168px;width:145px;height:2px"></div><div style="left:450px;top:1193px;width:145px;height:2px"></div><div style="left:450px;top:1168px;width:2px;height:27px"></div><div style="left:593px;top:1168px;width:2px;height:27px"></div><div style="left:593px;top:1168px;width:145px;height:2px"></div><div style="left:593px;top:1193px;width:145px;height:2px"></div><div style="left:593px;top:1168px;width:2px;height:27px"></div><div style="left:736px;top:1168px;width:2px;height:27px"></div><div style="left:736px;top:1168px;width:146px;height:2px"></div><div style="left:736px;top:1193px;width:146px;height:2px"></div><div style="left:736px;top:1168px;width:2px;height:27px"></div><div style="left:880px;top:1168px;width:2px;height:27px"></div><div style="left:134px;top:1193px;width:318px;height:2px"></div><div style="left:134px;top:1218px;width:318px;height:2px"></div><div style="left:134px;top:1193px;width:2px;height:27px"></div><div style="left:450px;top:1193px;width:2px;height:27px"></div><div style="left:450px;top:1193px;width:145px;height:2px"></div><div style="left:450px;top:1218px;width:145px;height:2px"></div><div style="left:450px;top:1193px;width:2px;height:27px"></div><div style="left:593px;top:1193px;width:2px;height:27px"></div><div style="left:593px;top:1193px;width:145px;height:2px"></div><div style="left:593px;top:1218px;width:145px;height:2px"></div><div style="left:593px;top:1193px;width:2px;height:27px"></div><div style="left:736px;top:1193px;width:2px;height:27px"></div><div style="left:134px;top:1218px;width:318px;height:2px"></div><div style="left:134px;top:1243px;width:318px;height:2px"></div><div style="left:134px;top:1218px;width:2px;height:27px"></div><div style="left:450px;top:1218px;width:2px;height:27px"></div><div style="left:450px;top:1218px;width:145px;height:2px"></div><div style="left:450px;top:1243px;width:145px;height:2px"></div><div style="left:450px;top:1218px;width:2px;height:27px"></div><div style="left:593px;top:1218px;width:2px;height:27px"></div><div style="left:593px;top:1218px;width:145px;height:2px"></div><div style="left:593px;top:1243px;width:145px;height:2px"></div><div style="left:593px;top:1218px;width:2px;height:27px"></div><div style="left:736px;top:1218px;width:2px;height:27px"></div><div style="left:736px;top:1218px;width:146px;height:2px"></div><div style="left:736px;top:1243px;width:146px;height:2px"></div><div style="left:736px;top:1218px;width:2px;height:27px"></div><div style="left:880px;top:1218px;width:2px;height:27px"></div><div style="left:134px;top:1243px;width:318px;height:2px"></div><div style="left:134px;top:1268px;width:318px;height:2px"></div><div style="left:134px;top:1243px;width:2px;height:27px"></div><div style="left:450px;top:1243px;width:2px;height:27px"></div><div style="left:450px;top:1243px;width:145px;height:2px"></div><div style="left:450px;top:1268px;width:145px;height:2px"></div><div style="left:450px;top:1243px;width:2px;height:27px"></div><div style="left:593px;top:1243px;width:2px;height:27px"></div><div style="left:593px;top:1243px;width:145px;height:2px"></div><div style="left:593px;top:1268px;width:145px;height:2px"></div><div style="left:593px;top:1243px;width:2px;height:27px"></div><div style="left:736px;top:1243px;width:2px;height:27px"></div><div style="left:134px;top:1268px;width:318px;height:2px"></div><div style="left:134px;top:1293px;width:318px;height:2px"></div><div style="left:134px;top:1268px;width:2px;height:27px"></div><div style="left:450px;top:1268px;width:2px;height:27px"></div><div style="left:450px;top:1268px;width:145px;height:2px"></div><div style="left:450px;top:1293px;width:145px;height:2px"></div><div style="left:450px;top:1268px;width:2px;height:27px"></div><div style="left:593px;top:1268px;width:2px;height:27px"></div><div style="left:593px;top:1268px;width:145px;height:2px"></div><div style="left:593px;top:1293px;width:145px;height:2px"></div><div style="left:593px;top:1268px;width:2px;height:27px"></div><div style="left:736px;top:1268px;width:2px;height:27px"></div><div style="left:736px;top:1268px;width:146px;height:2px"></div><div style="left:736px;top:1293px;width:146px;height:2px"></div><div style="left:736px;top:1268px;width:2px;height:27px"></div><div style="left:880px;top:1268px;width:2px;height:27px"></div><div style="left:880px;top:1268px;width:146px;height:2px"></div><div style="left:880px;top:1293px;width:146px;height:2px"></div><div style="left:880px;top:1268px;width:2px;height:27px"></div><div style="left:1024px;top:1268px;width:2px;height:27px"></div><div style="left:134px;top:1293px;width:318px;height:2px"></div><div style="left:134px;top:1318px;width:318px;height:2px"></div><div style="left:134px;top:1293px;width:2px;height:27px"></div><div style="left:450px;top:1293px;width:2px;height:27px"></div><div style="left:450px;top:1293px;width:145px;height:2px"></div><div style="left:450px;top:1318px;width:145px;height:2px"></div><div style="left:450px;top:1293px;width:2px;height:27px"></div><div style="left:593px;top:1293px;width:2px;height:27px"></div><div style="left:593px;top:1293px;width:145px;height:2px"></div><div style="left:593px;top:1318px;width:145px;height:2px"></div><div style="left:593px;top:1293px;width:2px;height:27px"></div><div style="left:736px;top:1293px;width:2px;height:27px"></div><div style="left:736px;top:1293px;width:146px;height:2px"></div><div style="left:736px;top:1318px;width:146px;height:2px"></div><div style="left:736px;top:1293px;width:2px;height:27px"></div><div style="left:880px;top:1293px;width:2px;height:27px"></div><div style="left:880px;top:1293px;width:146px;height:2px"></div><div style="left:880px;top:1318px;width:146px;height:2px"></div><div style="left:880px;top:1293px;width:2px;height:27px"></div><div style="left:1024px;top:1293px;width:2px;height:27px"></div><div style="left:10px;top:1318px;width:126px;height:2px"></div><div style="left:10px;top:1418px;width:126px;height:2px"></div><div style="left:10px;top:1318px;width:2px;height:102px"></div><div style="left:134px;top:1318px;width:2px;height:102px"></div><div style="left:134px;top:1318px;width:318px;height:2px"></div><div style="left:134px;top:1343px;width:318px;height:2px"></div><div style="left:134px;top:1318px;width:2px;height:27px"></div><div style="left:450px;top:1318px;width:2px;height:27px"></div><div style="left:450px;top:1318px;width:145px;height:2px"></div><div style="left:450px;top:1343px;width:145px;height:2px"></div><div style="left:450px;top:1318px;width:2px;height:27px"></div><div style="left:593px;top:1318px;width:2px;height:27px"></div><div style="left:593px;top:1318px;width:145px;height:2px"></div><div style="left:593px;top:1343px;width:145px;height:2px"></div><div style="left:593px;top:1318px;width:2px;height:27px"></div><div style="left:736px;top:1318px;width:2px;height:27px"></div><div style="left:134px;top:1343px;width:318px;height:2px"></div><div style="left:134px;top:1368px;width:318px;height:2px"></div><div style="left:134px;top:1343px;width:2px;height:27px"></div><div style="left:450px;top:1343px;width:2px;height:27px"></div><div style="left:450px;top:1343px;width:145px;height:2px"></div><div style="left:450px;top:1368px;width:145px;height:2px"></div><div style="left:450px;top:1343px;width:2px;height:27px"></div><div style="left:593px;top:1343px;width:2px;height:27px"></div><div style="left:593px;top:1343px;width:145px;height:2px"></div><div style="left:593px;top:1368px;width:145px;height:2px"></div><div style="left:593px;top:1343px;width:2px;height:27px"></div><div style="left:736px;top:1343px;width:2px;height:27px"></div><div style="left:134px;top:1368px;width:318px;height:2px"></div><div style="left:134px;top:1393px;width:318px;height:2px"></div><div style="left:134px;top:1368px;width:2px;height:27px"></div><div style="left:450px;top:1368px;width:2px;height:27px"></div><div style="left:450px;top:1368px;width:145px;height:2px"></div><div style="left:450px;top:1393px;width:145px;height:2px"></div><div style="left:450px;top:1368px;width:2px;height:27px"></div><div style="left:593px;top:1368px;width:2px;height:27px"></div><div style="left:593px;top:1368px;width:145px;height:2px"></div><div style="left:593px;top:1393px;width:145px;height:2px"></div><div style="left:593px;top:1368px;width:2px;height:27px"></div><div style="left:736px;top:1368px;width:2px;height:27px"></div><div style="left:880px;top:1368px;width:146px;height:2px"></div><div style="left:880px;top:1393px;width:146px;height:2px"></div><div style="left:880px;top:1368px;width:2px;height:27px"></div><div style="left:1024px;top:1368px;width:2px;height:27px"></div><div style="left:134px;top:1393px;width:318px;height:2px"></div><div style="left:134px;top:1418px;width:318px;height:2px"></div><div style="left:134px;top:1393px;width:2px;height:27px"></div><div style="left:450px;top:1393px;width:2px;height:27px"></div><div style="left:450px;top:1393px;width:145px;height:2px"></div><div style="left:450px;top:1418px;width:145px;height:2px"></div><div style="left:450px;top:1393px;width:2px;height:27px"></div><div style="left:593px;top:1393px;width:2px;height:27px"></div><div style="left:593px;top:1393px;width:145px;height:2px"></div><div style="left:593px;top:1418px;width:145px;height:2px"></div><div style="left:593px;top:1393px;width:2px;height:27px"></div><div style="left:736px;top:1393px;width:2px;height:27px"></div><div style="left:880px;top:1393px;width:146px;height:2px"></div><div style="left:880px;top:1418px;width:146px;height:2px"></div><div style="left:880px;top:1393px;width:2px;height:27px"></div><div style="left:1024px;top:1393px;width:2px;height:27px"></div></div>
<div class="t" style="left:-82px;width:1200px;text-align:center;top:19.75px;font-size:23px;line-height:23px;font-weight:bold;font-style:normal;color:#A11119;-webkit-text-stroke:0.1px #A11119;transform:scaleX(0.944);transform-origin:50% 0">Relación media alumnos/profesor por unidad escolar en los centros privados concertados de</div><div class="t" style="left:-84px;width:1200px;text-align:center;top:51.95px;font-size:23px;line-height:23px;font-weight:bold;font-style:normal;color:#A11119;-webkit-text-stroke:0.1px #A11119;transform:scaleX(0.945);transform-origin:50% 0">Castilla y León en el curso académico 2026/2027.</div><div class="t" style="left:-83px;width:1200px;text-align:center;top:96.25px;font-size:20.3px;line-height:20.3px;font-weight:normal;font-style:normal;color:#000;transform:scaleX(1.044);transform-origin:50% 0">Ratio mínima aplicable equivalente/ unidad escolar</div><div class="t" style="left:139px;width:1200px;text-align:center;top:130.67px;font-size:16.5px;line-height:16.5px;font-weight:bold;font-style:normal;color:#000;transform:scaleX(0.96);transform-origin:50% 0">ETAPA</div><div class="t" style="left:-77.70000000000005px;width:1200px;text-align:center;top:165.97px;font-size:16.5px;line-height:16.5px;font-weight:bold;font-style:normal;color:#000;transform:scaleX(0.955);transform-origin:50% 0">EDUCACIÓN</div><div class="t" style="left:-77.70000000000005px;width:1200px;text-align:center;top:214.57px;font-size:16.5px;line-height:16.5px;font-weight:bold;font-style:normal;color:#000;transform:scaleX(0.88);transform-origin:50% 0">CICLO</div><div class="t" style="left:65.60000000000002px;width:1200px;text-align:center;top:177.97px;font-size:16.5px;line-height:16.5px;font-weight:bold;font-style:normal;color:#000;transform:scaleX(0.955);transform-origin:50% 0">EDUCACIÓN</div><div class="t" style="left:65.60000000000002px;width:1200px;text-align:center;top:202.67px;font-size:16.5px;line-height:16.5px;font-weight:bold;font-style:normal;color:#000;transform:scaleX(0.975);transform-origin:50% 0">PRIMARIA</div><div class="t" style="left:209px;width:1200px;text-align:center;top:166.17px;font-size:16.5px;line-height:16.5px;font-weight:bold;font-style:normal;color:#000;transform:scaleX(0.955);transform-origin:50% 0">EDUCACIÓN</div><div class="t" style="left:209px;width:1200px;text-align:center;top:190.38px;font-size:16.5px;line-height:16.5px;font-weight:bold;font-style:normal;color:#000;transform:scaleX(0.927);transform-origin:50% 0">SECUNDARIA</div><div class="t" style="left:209px;width:1200px;text-align:center;top:214.47px;font-size:16.5px;line-height:16.5px;font-weight:bold;font-style:normal;color:#000;transform:scaleX(0.95);transform-origin:50% 0">OBLIGATORIA</div><div class="t" style="left:352.79999999999995px;width:1200px;text-align:center;top:189.88px;font-size:16.5px;line-height:16.5px;font-weight:bold;font-style:normal;color:#000;transform:scaleX(0.913);transform-origin:50% 0">BACHILLERATO</div><div class="t" style="left:15.2px;top:247.70px;font-size:16px;line-height:16px;font-weight:normal;font-style:normal;color:#000;transform:scaleX(0.9463);transform-origin:0 0">ÁVILA</div><div class="t" style="left:139.1px;top:247.70px;font-size:16px;line-height:16px;font-weight:normal;font-style:normal;color:#000;transform:scaleX(0.93);transform-origin:0 0">ARENAS DE SAN PEDRO</div><div class="t" style="left:-77.5px;width:1200px;text-align:center;top:248.80px;font-size:16px;line-height:16px;font-weight:normal;font-style:normal;color:#000;transform:scaleX(1.06);transform-origin:50% 0">16</div><div class="t" style="left:65.5px;width:1200px;text-align:center;top:248.80px;font-size:16px;line-height:16px;font-weight:normal;font-style:normal;color:#000;transform:scaleX(1.06);transform-origin:50% 0">16</div><div class="t" style="left:209.0px;width:1200px;text-align:center;top:248.80px;font-size:16px;line-height:16px;font-weight:normal;font-style:normal;color:#000;transform:scaleX(1.06);transform-origin:50% 0">21</div><div class="t" style="left:139.1px;top:272.73px;font-size:16px;line-height:16px;font-weight:normal;font-style:normal;color:#000;transform:scaleX(0.9517);transform-origin:0 0">ARÉVALO</div><div class="t" style="left:-77.5px;width:1200px;text-align:center;top:273.83px;font-size:16px;line-height:16px;font-weight:normal;font-style:normal;color:#000;transform:scaleX(1.06);transform-origin:50% 0">14</div><div class="t" style="left:65.5px;width:1200px;text-align:center;top:273.83px;font-size:16px;line-height:16px;font-weight:normal;font-style:normal;color:#000;transform:scaleX(1.06);transform-origin:50% 0">15</div><div class="t" style="left:209.0px;width:1200px;text-align:center;top:273.83px;font-size:16px;line-height:16px;font-weight:normal;font-style:normal;color:#000;transform:scaleX(1.06);transform-origin:50% 0">21</div><div class="t" style="left:139.1px;top:297.75px;font-size:16px;line-height:16px;font-weight:normal;font-style:normal;color:#000;transform:scaleX(0.9694);transform-origin:0 0">EL TIEMBLO</div><div class="t" style="left:-77.5px;width:1200px;text-align:center;top:298.85px;font-size:16px;line-height:16px;font-weight:normal;font-style:normal;color:#000;transform:scaleX(1.06);transform-origin:50% 0">15</div><div class="t" style="left:65.5px;width:1200px;text-align:center;top:298.85px;font-size:16px;line-height:16px;font-weight:normal;font-style:normal;color:#000;transform:scaleX(1.06);transform-origin:50% 0">17</div><div class="t" style="left:209.0px;width:1200px;text-align:center;top:298.85px;font-size:16px;line-height:16px;font-weight:normal;font-style:normal;color:#000;transform:scaleX(1.06);transform-origin:50% 0">20</div><div class="t" style="left:139.1px;top:322.78px;font-size:16px;line-height:16px;font-weight:normal;font-style:normal;color:#000;transform:scaleX(0.9463);transform-origin:0 0">ÁVILA</div><div class="t" style="left:-77.5px;width:1200px;text-align:center;top:323.88px;font-size:16px;line-height:16px;font-weight:normal;font-style:normal;color:#000;transform:scaleX(1.06);transform-origin:50% 0">16</div><div class="t" style="left:65.5px;width:1200px;text-align:center;top:323.88px;font-size:16px;line-height:16px;font-weight:normal;font-style:normal;color:#000;transform:scaleX(1.06);transform-origin:50% 0">18</div><div class="t" style="left:209.0px;width:1200px;text-align:center;top:323.88px;font-size:16px;line-height:16px;font-weight:normal;font-style:normal;color:#000;transform:scaleX(1.06);transform-origin:50% 0">23</div><div class="t" style="left:353.0px;width:1200px;text-align:center;top:323.88px;font-size:16px;line-height:16px;font-weight:normal;font-style:normal;color:#000;transform:scaleX(1.06);transform-origin:50% 0">20</div><div class="t" style="left:139.1px;top:347.81px;font-size:16px;line-height:16px;font-weight:normal;font-style:normal;color:#000;transform:scaleX(0.9397);transform-origin:0 0">RESTO PROVINCIA</div><div class="t" style="left:-77.5px;width:1200px;text-align:center;top:348.91px;font-size:16px;line-height:16px;font-weight:normal;font-style:normal;color:#000;transform:scaleX(1.06);transform-origin:50% 0">14</div><div class="t" style="left:65.5px;width:1200px;text-align:center;top:348.91px;font-size:16px;line-height:16px;font-weight:normal;font-style:normal;color:#000;transform:scaleX(1.06);transform-origin:50% 0">14</div><div class="t" style="left:209.0px;width:1200px;text-align:center;top:348.91px;font-size:16px;line-height:16px;font-weight:normal;font-style:normal;color:#000;transform:scaleX(1.06);transform-origin:50% 0">19</div><div class="t" style="left:353.0px;width:1200px;text-align:center;top:348.91px;font-size:16px;line-height:16px;font-weight:normal;font-style:normal;color:#000;transform:scaleX(1.06);transform-origin:50% 0">17</div><div class="t" style="left:15.2px;top:372.83px;font-size:16px;line-height:16px;font-weight:normal;font-style:normal;color:#000;transform:scaleX(0.9376);transform-origin:0 0">BURGOS</div><div class="t" style="left:139.1px;top:372.83px;font-size:16px;line-height:16px;font-weight:normal;font-style:normal;color:#000;transform:scaleX(0.9671);transform-origin:0 0">ARANDA DE DUERO</div><div class="t" style="left:-77.5px;width:1200px;text-align:center;top:373.94px;font-size:16px;line-height:16px;font-weight:normal;font-style:normal;color:#000;transform:scaleX(1.06);transform-origin:50% 0">17</div><div class="t" style="left:65.5px;width:1200px;text-align:center;top:373.94px;font-size:16px;line-height:16px;font-weight:normal;font-style:normal;color:#000;transform:scaleX(1.06);transform-origin:50% 0">18</div><div class="t" style="left:209.0px;width:1200px;text-align:center;top:373.94px;font-size:16px;line-height:16px;font-weight:normal;font-style:normal;color:#000;transform:scaleX(1.06);transform-origin:50% 0">22</div><div class="t" style="left:139.1px;top:397.86px;font-size:16px;line-height:16px;font-weight:normal;font-style:normal;color:#000;transform:scaleX(0.983);transform-origin:0 0">MIRANDA DE EBRO</div><div class="t" style="left:-77.5px;width:1200px;text-align:center;top:398.96px;font-size:16px;line-height:16px;font-weight:normal;font-style:normal;color:#000;transform:scaleX(1.06);transform-origin:50% 0">18</div><div class="t" style="left:65.5px;width:1200px;text-align:center;top:398.96px;font-size:16px;line-height:16px;font-weight:normal;font-style:normal;color:#000;transform:scaleX(1.06);transform-origin:50% 0">19</div><div class="t" style="left:209.0px;width:1200px;text-align:center;top:398.96px;font-size:16px;line-height:16px;font-weight:normal;font-style:normal;color:#000;transform:scaleX(1.06);transform-origin:50% 0">22</div><div class="t" style="left:139.1px;top:422.89px;font-size:16px;line-height:16px;font-weight:normal;font-style:normal;color:#000;transform:scaleX(0.9436);transform-origin:0 0">ROA</div><div class="t" style="left:-77.5px;width:1200px;text-align:center;top:423.99px;font-size:16px;line-height:16px;font-weight:normal;font-style:normal;color:#000;transform:scaleX(1.06);transform-origin:50% 0">16</div><div class="t" style="left:65.5px;width:1200px;text-align:center;top:423.99px;font-size:16px;line-height:16px;font-weight:normal;font-style:normal;color:#000;transform:scaleX(1.06);transform-origin:50% 0">14</div><div class="t" style="left:139.1px;top:447.92px;font-size:16px;line-height:16px;font-weight:normal;font-style:normal;color:#000;transform:scaleX(0.9376);transform-origin:0 0">BURGOS</div><div class="t" style="left:-77.5px;width:1200px;text-align:center;top:449.02px;font-size:16px;line-height:16px;font-weight:normal;font-style:normal;color:#000;transform:scaleX(1.06);transform-origin:50% 0">17</div><div class="t" style="left:65.5px;width:1200px;text-align:center;top:449.02px;font-size:16px;line-height:16px;font-weight:normal;font-style:normal;color:#000;transform:scaleX(1.06);transform-origin:50% 0">19</div><div class="t" style="left:209.0px;width:1200px;text-align:center;top:449.02px;font-size:16px;line-height:16px;font-weight:normal;font-style:normal;color:#000;transform:scaleX(1.06);transform-origin:50% 0">24</div><div class="t" style="left:353.0px;width:1200px;text-align:center;top:449.02px;font-size:16px;line-height:16px;font-weight:normal;font-style:normal;color:#000;transform:scaleX(1.06);transform-origin:50% 0">22</div><div class="t" style="left:139.1px;top:472.94px;font-size:16px;line-height:16px;font-weight:normal;font-style:normal;color:#000;transform:scaleX(0.9397);transform-origin:0 0">RESTO PROVINCIA</div><div class="t" style="left:-77.5px;width:1200px;text-align:center;top:474.04px;font-size:16px;line-height:16px;font-weight:normal;font-style:normal;color:#000;transform:scaleX(1.06);transform-origin:50% 0">13</div><div class="t" style="left:65.5px;width:1200px;text-align:center;top:474.04px;font-size:16px;line-height:16px;font-weight:normal;font-style:normal;color:#000;transform:scaleX(1.06);transform-origin:50% 0">14</div><div class="t" style="left:209.0px;width:1200px;text-align:center;top:474.04px;font-size:16px;line-height:16px;font-weight:normal;font-style:normal;color:#000;transform:scaleX(1.06);transform-origin:50% 0">18</div><div class="t" style="left:353.0px;width:1200px;text-align:center;top:474.04px;font-size:16px;line-height:16px;font-weight:normal;font-style:normal;color:#000;transform:scaleX(1.06);transform-origin:50% 0">18</div><div class="t" style="left:15.2px;top:497.97px;font-size:16px;line-height:16px;font-weight:normal;font-style:normal;color:#000;transform:scaleX(0.9561);transform-origin:0 0">LEÓN</div><div class="t" style="left:139.1px;top:497.97px;font-size:16px;line-height:16px;font-weight:normal;font-style:normal;color:#000;transform:scaleX(0.9272);transform-origin:0 0">ASTORGA</div><div class="t" style="left:-77.5px;width:1200px;text-align:center;top:499.07px;font-size:16px;line-height:16px;font-weight:normal;font-style:normal;color:#000;transform:scaleX(1.06);transform-origin:50% 0">13</div><div class="t" style="left:65.5px;width:1200px;text-align:center;top:499.07px;font-size:16px;line-height:16px;font-weight:normal;font-style:normal;color:#000;transform:scaleX(1.06);transform-origin:50% 0">13</div><div class="t" style="left:209.0px;width:1200px;text-align:center;top:499.07px;font-size:16px;line-height:16px;font-weight:normal;font-style:normal;color:#000;transform:scaleX(1.06);transform-origin:50% 0">22</div><div class="t" style="left:139.1px;top:523.00px;font-size:16px;line-height:16px;font-weight:normal;font-style:normal;color:#000;transform:scaleX(0.9662);transform-origin:0 0">BEMBIBRE</div><div class="t" style="left:-77.5px;width:1200px;text-align:center;top:524.10px;font-size:16px;line-height:16px;font-weight:normal;font-style:normal;color:#000;transform:scaleX(1.06);transform-origin:50% 0">13</div><div class="t" style="left:65.5px;width:1200px;text-align:center;top:524.10px;font-size:16px;line-height:16px;font-weight:normal;font-style:normal;color:#000;transform:scaleX(1.06);transform-origin:50% 0">13</div><div class="t" style="left:209.0px;width:1200px;text-align:center;top:524.10px;font-size:16px;line-height:16px;font-weight:normal;font-style:normal;color:#000;transform:scaleX(1.06);transform-origin:50% 0">19</div><div class="t" style="left:139.1px;top:548.02px;font-size:16px;line-height:16px;font-weight:normal;font-style:normal;color:#000;transform:scaleX(0.9686);transform-origin:0 0">LA BAÑEZA</div><div class="t" style="left:-77.5px;width:1200px;text-align:center;top:549.12px;font-size:16px;line-height:16px;font-weight:normal;font-style:normal;color:#000;transform:scaleX(1.06);transform-origin:50% 0">15</div><div class="t" style="left:65.5px;width:1200px;text-align:center;top:549.12px;font-size:16px;line-height:16px;font-weight:normal;font-style:normal;color:#000;transform:scaleX(1.06);transform-origin:50% 0">16</div><div class="t" style="left:209.0px;width:1200px;text-align:center;top:549.12px;font-size:16px;line-height:16px;font-weight:normal;font-style:normal;color:#000;transform:scaleX(1.06);transform-origin:50% 0">22</div><div class="t" style="left:139.1px;top:573.05px;font-size:16px;line-height:16px;font-weight:normal;font-style:normal;color:#000;transform:scaleX(0.9442);transform-origin:0 0">PONFERRADA</div><div class="t" style="left:-77.5px;width:1200px;text-align:center;top:574.15px;font-size:16px;line-height:16px;font-weight:normal;font-style:normal;color:#000;transform:scaleX(1.06);transform-origin:50% 0">14</div><div class="t" style="left:65.5px;width:1200px;text-align:center;top:574.15px;font-size:16px;line-height:16px;font-weight:normal;font-style:normal;color:#000;transform:scaleX(1.06);transform-origin:50% 0">17</div><div class="t" style="left:209.0px;width:1200px;text-align:center;top:574.15px;font-size:16px;line-height:16px;font-weight:normal;font-style:normal;color:#000;transform:scaleX(1.06);transform-origin:50% 0">21</div><div class="t" style="left:139.1px;top:598.08px;font-size:16px;line-height:16px;font-weight:normal;font-style:normal;color:#000;transform:scaleX(0.9571);transform-origin:0 0">SAN ANDRÉS DE RABANEDO</div><div class="t" style="left:-77.5px;width:1200px;text-align:center;top:599.18px;font-size:16px;line-height:16px;font-weight:normal;font-style:normal;color:#000;transform:scaleX(1.06);transform-origin:50% 0">13</div><div class="t" style="left:65.5px;width:1200px;text-align:center;top:599.18px;font-size:16px;line-height:16px;font-weight:normal;font-style:normal;color:#000;transform:scaleX(1.06);transform-origin:50% 0">16</div><div class="t" style="left:139.1px;top:623.11px;font-size:16px;line-height:16px;font-weight:normal;font-style:normal;color:#000;transform:scaleX(0.9561);transform-origin:0 0">LEÓN</div><div class="t" style="left:-77.5px;width:1200px;text-align:center;top:624.21px;font-size:16px;line-height:16px;font-weight:normal;font-style:normal;color:#000;transform:scaleX(1.06);transform-origin:50% 0">16</div><div class="t" style="left:65.5px;width:1200px;text-align:center;top:624.21px;font-size:16px;line-height:16px;font-weight:normal;font-style:normal;color:#000;transform:scaleX(1.06);transform-origin:50% 0">20</div><div class="t" style="left:209.0px;width:1200px;text-align:center;top:624.21px;font-size:16px;line-height:16px;font-weight:normal;font-style:normal;color:#000;transform:scaleX(1.06);transform-origin:50% 0">24</div><div class="t" style="left:353.0px;width:1200px;text-align:center;top:624.21px;font-size:16px;line-height:16px;font-weight:normal;font-style:normal;color:#000;transform:scaleX(1.06);transform-origin:50% 0">22</div><div class="t" style="left:139.1px;top:648.13px;font-size:16px;line-height:16px;font-weight:normal;font-style:normal;color:#000;transform:scaleX(0.9397);transform-origin:0 0">RESTO PROVINCIA</div><div class="t" style="left:-77.5px;width:1200px;text-align:center;top:649.23px;font-size:16px;line-height:16px;font-weight:normal;font-style:normal;color:#000;transform:scaleX(1.06);transform-origin:50% 0">13</div><div class="t" style="left:65.5px;width:1200px;text-align:center;top:649.23px;font-size:16px;line-height:16px;font-weight:normal;font-style:normal;color:#000;transform:scaleX(1.06);transform-origin:50% 0">13</div><div class="t" style="left:209.0px;width:1200px;text-align:center;top:649.23px;font-size:16px;line-height:16px;font-weight:normal;font-style:normal;color:#000;transform:scaleX(1.06);transform-origin:50% 0">19</div><div class="t" style="left:353.0px;width:1200px;text-align:center;top:649.23px;font-size:16px;line-height:16px;font-weight:normal;font-style:normal;color:#000;transform:scaleX(1.06);transform-origin:50% 0">19</div><div class="t" style="left:15.2px;top:673.16px;font-size:16px;line-height:16px;font-weight:normal;font-style:normal;color:#000;transform:scaleX(0.957);transform-origin:0 0">PALENCIA</div><div class="t" style="left:139.1px;top:673.16px;font-size:16px;line-height:16px;font-weight:normal;font-style:normal;color:#000;transform:scaleX(0.9703);transform-origin:0 0">AGUILAR DE CAMPÓO</div><div class="t" style="left:-77.5px;width:1200px;text-align:center;top:674.26px;font-size:16px;line-height:16px;font-weight:normal;font-style:normal;color:#000;transform:scaleX(1.06);transform-origin:50% 0">13</div><div class="t" style="left:65.5px;width:1200px;text-align:center;top:674.26px;font-size:16px;line-height:16px;font-weight:normal;font-style:normal;color:#000;transform:scaleX(1.06);transform-origin:50% 0">18</div><div class="t" style="left:209.0px;width:1200px;text-align:center;top:674.26px;font-size:16px;line-height:16px;font-weight:normal;font-style:normal;color:#000;transform:scaleX(1.06);transform-origin:50% 0">19</div><div class="t" style="left:139.1px;top:698.19px;font-size:16px;line-height:16px;font-weight:normal;font-style:normal;color:#000;transform:scaleX(0.9521);transform-origin:0 0">VILLAMURIEL DE CERRATO</div><div class="t" style="left:209.0px;width:1200px;text-align:center;top:699.29px;font-size:16px;line-height:16px;font-weight:normal;font-style:normal;color:#000;transform:scaleX(1.06);transform-origin:50% 0">20</div><div class="t" style="left:139.1px;top:723.21px;font-size:16px;line-height:16px;font-weight:normal;font-style:normal;color:#000;transform:scaleX(0.9658);transform-origin:0 0">DUEÑAS</div><div class="t" style="left:-77.5px;width:1200px;text-align:center;top:724.31px;font-size:16px;line-height:16px;font-weight:normal;font-style:normal;color:#000;transform:scaleX(1.06);transform-origin:50% 0">18</div><div class="t" style="left:65.5px;width:1200px;text-align:center;top:724.31px;font-size:16px;line-height:16px;font-weight:normal;font-style:normal;color:#000;transform:scaleX(1.06);transform-origin:50% 0">15</div><div class="t" style="left:139.1px;top:748.24px;font-size:16px;line-height:16px;font-weight:normal;font-style:normal;color:#000;transform:scaleX(0.957);transform-origin:0 0">PALENCIA</div><div class="t" style="left:-77.5px;width:1200px;text-align:center;top:749.34px;font-size:16px;line-height:16px;font-weight:normal;font-style:normal;color:#000;transform:scaleX(1.06);transform-origin:50% 0">16</div><div class="t" style="left:65.5px;width:1200px;text-align:center;top:749.34px;font-size:16px;line-height:16px;font-weight:normal;font-style:normal;color:#000;transform:scaleX(1.06);transform-origin:50% 0">18</div><div class="t" style="left:209.0px;width:1200px;text-align:center;top:749.34px;font-size:16px;line-height:16px;font-weight:normal;font-style:normal;color:#000;transform:scaleX(1.06);transform-origin:50% 0">24</div><div class="t" style="left:353.0px;width:1200px;text-align:center;top:749.34px;font-size:16px;line-height:16px;font-weight:normal;font-style:normal;color:#000;transform:scaleX(1.06);transform-origin:50% 0">21</div><div class="t" style="left:139.1px;top:773.27px;font-size:16px;line-height:16px;font-weight:normal;font-style:normal;color:#000;transform:scaleX(0.9397);transform-origin:0 0">RESTO PROVINCIA</div><div class="t" style="left:-77.5px;width:1200px;text-align:center;top:774.37px;font-size:16px;line-height:16px;font-weight:normal;font-style:normal;color:#000;transform:scaleX(1.06);transform-origin:50% 0">12</div><div class="t" style="left:65.5px;width:1200px;text-align:center;top:774.37px;font-size:16px;line-height:16px;font-weight:normal;font-style:normal;color:#000;transform:scaleX(1.06);transform-origin:50% 0">13</div><div class="t" style="left:209.0px;width:1200px;text-align:center;top:774.37px;font-size:16px;line-height:16px;font-weight:normal;font-style:normal;color:#000;transform:scaleX(1.06);transform-origin:50% 0">19</div><div class="t" style="left:353.0px;width:1200px;text-align:center;top:774.37px;font-size:16px;line-height:16px;font-weight:normal;font-style:normal;color:#000;transform:scaleX(1.06);transform-origin:50% 0">18</div><div class="t" style="left:15.2px;top:798.29px;font-size:16px;line-height:16px;font-weight:normal;font-style:normal;color:#000;transform:scaleX(0.9832);transform-origin:0 0">SALAMANCA</div><div class="t" style="left:139.1px;top:798.29px;font-size:16px;line-height:16px;font-weight:normal;font-style:normal;color:#000;transform:scaleX(0.9542);transform-origin:0 0">ALBA DE TORMES</div><div class="t" style="left:-77.5px;width:1200px;text-align:center;top:799.39px;font-size:16px;line-height:16px;font-weight:normal;font-style:normal;color:#000;transform:scaleX(1.06);transform-origin:50% 0">13</div><div class="t" style="left:65.5px;width:1200px;text-align:center;top:799.39px;font-size:16px;line-height:16px;font-weight:normal;font-style:normal;color:#000;transform:scaleX(1.06);transform-origin:50% 0">14</div><div class="t" style="left:209.0px;width:1200px;text-align:center;top:799.39px;font-size:16px;line-height:16px;font-weight:normal;font-style:normal;color:#000;transform:scaleX(1.06);transform-origin:50% 0">19</div><div class="t" style="left:139.1px;top:823.32px;font-size:16px;line-height:16px;font-weight:normal;font-style:normal;color:#000;transform:scaleX(0.8988);transform-origin:0 0">BÉJAR</div><div class="t" style="left:-77.5px;width:1200px;text-align:center;top:824.42px;font-size:16px;line-height:16px;font-weight:normal;font-style:normal;color:#000;transform:scaleX(1.06);transform-origin:50% 0">13</div><div class="t" style="left:65.5px;width:1200px;text-align:center;top:824.42px;font-size:16px;line-height:16px;font-weight:normal;font-style:normal;color:#000;transform:scaleX(1.06);transform-origin:50% 0">14</div><div class="t" style="left:209.0px;width:1200px;text-align:center;top:824.42px;font-size:16px;line-height:16px;font-weight:normal;font-style:normal;color:#000;transform:scaleX(1.06);transform-origin:50% 0">18</div><div class="t" style="left:139.1px;top:848.35px;font-size:16px;line-height:16px;font-weight:normal;font-style:normal;color:#000;transform:scaleX(0.9072);transform-origin:0 0">CABRERIZOS</div><div class="t" style="left:-77.5px;width:1200px;text-align:center;top:849.45px;font-size:16px;line-height:16px;font-weight:normal;font-style:normal;color:#000;transform:scaleX(1.06);transform-origin:50% 0">15</div><div class="t" style="left:139.1px;top:873.38px;font-size:16px;line-height:16px;font-weight:normal;font-style:normal;color:#000;transform:scaleX(0.9669);transform-origin:0 0">CIUDAD RODRIGO</div><div class="t" style="left:-77.5px;width:1200px;text-align:center;top:874.48px;font-size:16px;line-height:16px;font-weight:normal;font-style:normal;color:#000;transform:scaleX(1.06);transform-origin:50% 0">15</div><div class="t" style="left:65.5px;width:1200px;text-align:center;top:874.48px;font-size:16px;line-height:16px;font-weight:normal;font-style:normal;color:#000;transform:scaleX(1.06);transform-origin:50% 0">16</div><div class="t" style="left:209.0px;width:1200px;text-align:center;top:874.48px;font-size:16px;line-height:16px;font-weight:normal;font-style:normal;color:#000;transform:scaleX(1.06);transform-origin:50% 0">25</div><div class="t" style="left:139.1px;top:898.40px;font-size:16px;line-height:16px;font-weight:normal;font-style:normal;color:#000;transform:scaleX(0.9753);transform-origin:0 0">PEÑARANDA DE BRACAMONTE</div><div class="t" style="left:-77.5px;width:1200px;text-align:center;top:899.50px;font-size:16px;line-height:16px;font-weight:normal;font-style:normal;color:#000;transform:scaleX(1.06);transform-origin:50% 0">15</div><div class="t" style="left:65.5px;width:1200px;text-align:center;top:899.50px;font-size:16px;line-height:16px;font-weight:normal;font-style:normal;color:#000;transform:scaleX(1.06);transform-origin:50% 0">16</div><div class="t" style="left:209.0px;width:1200px;text-align:center;top:899.50px;font-size:16px;line-height:16px;font-weight:normal;font-style:normal;color:#000;transform:scaleX(1.06);transform-origin:50% 0">22</div><div class="t" style="left:139.1px;top:923.43px;font-size:16px;line-height:16px;font-weight:normal;font-style:normal;color:#000;transform:scaleX(0.9832);transform-origin:0 0">SALAMANCA</div><div class="t" style="left:-77.5px;width:1200px;text-align:center;top:924.53px;font-size:16px;line-height:16px;font-weight:normal;font-style:normal;color:#000;transform:scaleX(1.06);transform-origin:50% 0">14</div><div class="t" style="left:65.5px;width:1200px;text-align:center;top:924.53px;font-size:16px;line-height:16px;font-weight:normal;font-style:normal;color:#000;transform:scaleX(1.06);transform-origin:50% 0">18</div><div class="t" style="left:209.0px;width:1200px;text-align:center;top:924.53px;font-size:16px;line-height:16px;font-weight:normal;font-style:normal;color:#000;transform:scaleX(1.06);transform-origin:50% 0">23</div><div class="t" style="left:353.0px;width:1200px;text-align:center;top:924.53px;font-size:16px;line-height:16px;font-weight:normal;font-style:normal;color:#000;transform:scaleX(1.06);transform-origin:50% 0">25</div><div class="t" style="left:139.1px;top:948.46px;font-size:16px;line-height:16px;font-weight:normal;font-style:normal;color:#000;transform:scaleX(0.9397);transform-origin:0 0">RESTO PROVINCIA</div><div class="t" style="left:-77.5px;width:1200px;text-align:center;top:949.56px;font-size:16px;line-height:16px;font-weight:normal;font-style:normal;color:#000;transform:scaleX(1.06);transform-origin:50% 0">14</div><div class="t" style="left:65.5px;width:1200px;text-align:center;top:949.56px;font-size:16px;line-height:16px;font-weight:normal;font-style:normal;color:#000;transform:scaleX(1.06);transform-origin:50% 0">14</div><div class="t" style="left:209.0px;width:1200px;text-align:center;top:949.56px;font-size:16px;line-height:16px;font-weight:normal;font-style:normal;color:#000;transform:scaleX(1.06);transform-origin:50% 0">19</div><div class="t" style="left:353.0px;width:1200px;text-align:center;top:949.56px;font-size:16px;line-height:16px;font-weight:normal;font-style:normal;color:#000;transform:scaleX(1.06);transform-origin:50% 0">21</div><div class="t" style="left:15.2px;top:973.48px;font-size:16px;line-height:16px;font-weight:normal;font-style:normal;color:#000;transform:scaleX(0.9394);transform-origin:0 0">SEGOVIA</div><div class="t" style="left:139.1px;top:973.48px;font-size:16px;line-height:16px;font-weight:normal;font-style:normal;color:#000;transform:scaleX(0.9279);transform-origin:0 0">LA LASTRILLA</div><div class="t" style="left:-77.5px;width:1200px;text-align:center;top:974.58px;font-size:16px;line-height:16px;font-weight:normal;font-style:normal;color:#000;transform:scaleX(1.06);transform-origin:50% 0">18</div><div class="t" style="left:65.5px;width:1200px;text-align:center;top:974.58px;font-size:16px;line-height:16px;font-weight:normal;font-style:normal;color:#000;transform:scaleX(1.06);transform-origin:50% 0">18</div><div class="t" style="left:139.1px;top:998.51px;font-size:16px;line-height:16px;font-weight:normal;font-style:normal;color:#000;transform:scaleX(0.9394);transform-origin:0 0">SEGOVIA</div><div class="t" style="left:-77.5px;width:1200px;text-align:center;top:999.61px;font-size:16px;line-height:16px;font-weight:normal;font-style:normal;color:#000;transform:scaleX(1.06);transform-origin:50% 0">15</div><div class="t" style="left:65.5px;width:1200px;text-align:center;top:999.61px;font-size:16px;line-height:16px;font-weight:normal;font-style:normal;color:#000;transform:scaleX(1.06);transform-origin:50% 0">17</div><div class="t" style="left:209.0px;width:1200px;text-align:center;top:999.61px;font-size:16px;line-height:16px;font-weight:normal;font-style:normal;color:#000;transform:scaleX(1.06);transform-origin:50% 0">23</div><div class="t" style="left:353.0px;width:1200px;text-align:center;top:999.61px;font-size:16px;line-height:16px;font-weight:normal;font-style:normal;color:#000;transform:scaleX(1.06);transform-origin:50% 0">23</div><div class="t" style="left:139.1px;top:1023.54px;font-size:16px;line-height:16px;font-weight:normal;font-style:normal;color:#000;transform:scaleX(0.9397);transform-origin:0 0">RESTO PROVINCIA</div><div class="t" style="left:-77.5px;width:1200px;text-align:center;top:1024.64px;font-size:16px;line-height:16px;font-weight:normal;font-style:normal;color:#000;transform:scaleX(1.06);transform-origin:50% 0">14</div><div class="t" style="left:65.5px;width:1200px;text-align:center;top:1024.64px;font-size:16px;line-height:16px;font-weight:normal;font-style:normal;color:#000;transform:scaleX(1.06);transform-origin:50% 0">15</div><div class="t" style="left:209.0px;width:1200px;text-align:center;top:1024.64px;font-size:16px;line-height:16px;font-weight:normal;font-style:normal;color:#000;transform:scaleX(1.06);transform-origin:50% 0">20</div><div class="t" style="left:353.0px;width:1200px;text-align:center;top:1024.64px;font-size:16px;line-height:16px;font-weight:normal;font-style:normal;color:#000;transform:scaleX(1.06);transform-origin:50% 0">20</div><div class="t" style="left:15.2px;top:1048.56px;font-size:16px;line-height:16px;font-weight:normal;font-style:normal;color:#000;transform:scaleX(0.9257);transform-origin:0 0">SORIA</div><div class="t" style="left:139.1px;top:1048.56px;font-size:16px;line-height:16px;font-weight:normal;font-style:normal;color:#000;transform:scaleX(1.0103);transform-origin:0 0">ALMAZÁN</div><div class="t" style="left:-77.5px;width:1200px;text-align:center;top:1049.66px;font-size:16px;line-height:16px;font-weight:normal;font-style:normal;color:#000;transform:scaleX(1.06);transform-origin:50% 0">18</div><div class="t" style="left:65.5px;width:1200px;text-align:center;top:1049.66px;font-size:16px;line-height:16px;font-weight:normal;font-style:normal;color:#000;transform:scaleX(1.06);transform-origin:50% 0">16</div><div class="t" style="left:209.0px;width:1200px;text-align:center;top:1049.66px;font-size:16px;line-height:16px;font-weight:normal;font-style:normal;color:#000;transform:scaleX(1.06);transform-origin:50% 0">22</div><div class="t" style="left:139.1px;top:1073.59px;font-size:16px;line-height:16px;font-weight:normal;font-style:normal;color:#000;transform:scaleX(0.9257);transform-origin:0 0">SORIA</div><div class="t" style="left:-77.5px;width:1200px;text-align:center;top:1074.69px;font-size:16px;line-height:16px;font-weight:normal;font-style:normal;color:#000;transform:scaleX(1.06);transform-origin:50% 0">17</div><div class="t" style="left:65.5px;width:1200px;text-align:center;top:1074.69px;font-size:16px;line-height:16px;font-weight:normal;font-style:normal;color:#000;transform:scaleX(1.06);transform-origin:50% 0">18</div><div class="t" style="left:209.0px;width:1200px;text-align:center;top:1074.69px;font-size:16px;line-height:16px;font-weight:normal;font-style:normal;color:#000;transform:scaleX(1.06);transform-origin:50% 0">23</div><div class="t" style="left:353.0px;width:1200px;text-align:center;top:1074.69px;font-size:16px;line-height:16px;font-weight:normal;font-style:normal;color:#000;transform:scaleX(1.06);transform-origin:50% 0">21</div><div class="t" style="left:139.1px;top:1098.62px;font-size:16px;line-height:16px;font-weight:normal;font-style:normal;color:#000;transform:scaleX(0.9397);transform-origin:0 0">RESTO PROVINCIA</div><div class="t" style="left:-77.5px;width:1200px;text-align:center;top:1099.72px;font-size:16px;line-height:16px;font-weight:normal;font-style:normal;color:#000;transform:scaleX(1.06);transform-origin:50% 0">13</div><div class="t" style="left:65.5px;width:1200px;text-align:center;top:1099.72px;font-size:16px;line-height:16px;font-weight:normal;font-style:normal;color:#000;transform:scaleX(1.06);transform-origin:50% 0">14</div><div class="t" style="left:209.0px;width:1200px;text-align:center;top:1099.72px;font-size:16px;line-height:16px;font-weight:normal;font-style:normal;color:#000;transform:scaleX(1.06);transform-origin:50% 0">19</div><div class="t" style="left:353.0px;width:1200px;text-align:center;top:1099.72px;font-size:16px;line-height:16px;font-weight:normal;font-style:normal;color:#000;transform:scaleX(1.06);transform-origin:50% 0">18</div><div class="t" style="left:15.2px;top:1123.65px;font-size:16px;line-height:16px;font-weight:normal;font-style:normal;color:#000;transform:scaleX(0.9746);transform-origin:0 0">VALLADOLID</div><div class="t" style="left:139.1px;top:1123.65px;font-size:16px;line-height:16px;font-weight:normal;font-style:normal;color:#000;transform:scaleX(0.9642);transform-origin:0 0">MEDINA DE RIOSECO</div><div class="t" style="left:-77.5px;width:1200px;text-align:center;top:1124.75px;font-size:16px;line-height:16px;font-weight:normal;font-style:normal;color:#000;transform:scaleX(1.06);transform-origin:50% 0">16</div><div class="t" style="left:65.5px;width:1200px;text-align:center;top:1124.75px;font-size:16px;line-height:16px;font-weight:normal;font-style:normal;color:#000;transform:scaleX(1.06);transform-origin:50% 0">15</div><div class="t" style="left:209.0px;width:1200px;text-align:center;top:1124.75px;font-size:16px;line-height:16px;font-weight:normal;font-style:normal;color:#000;transform:scaleX(1.06);transform-origin:50% 0">20</div><div class="t" style="left:139.1px;top:1148.67px;font-size:16px;line-height:16px;font-weight:normal;font-style:normal;color:#000;transform:scaleX(1.0029);transform-origin:0 0">MEDINA DEL CAMPO</div><div class="t" style="left:-77.5px;width:1200px;text-align:center;top:1149.77px;font-size:16px;line-height:16px;font-weight:normal;font-style:normal;color:#000;transform:scaleX(1.06);transform-origin:50% 0">15</div><div class="t" style="left:65.5px;width:1200px;text-align:center;top:1149.77px;font-size:16px;line-height:16px;font-weight:normal;font-style:normal;color:#000;transform:scaleX(1.06);transform-origin:50% 0">19</div><div class="t" style="left:209.0px;width:1200px;text-align:center;top:1149.77px;font-size:16px;line-height:16px;font-weight:normal;font-style:normal;color:#000;transform:scaleX(1.06);transform-origin:50% 0">22</div><div class="t" style="left:139.1px;top:1173.70px;font-size:16px;line-height:16px;font-weight:normal;font-style:normal;color:#000;transform:scaleX(0.9293);transform-origin:0 0">PEÑAFIEL</div><div class="t" style="left:-77.5px;width:1200px;text-align:center;top:1174.80px;font-size:16px;line-height:16px;font-weight:normal;font-style:normal;color:#000;transform:scaleX(1.06);transform-origin:50% 0">16</div><div class="t" style="left:65.5px;width:1200px;text-align:center;top:1174.80px;font-size:16px;line-height:16px;font-weight:normal;font-style:normal;color:#000;transform:scaleX(1.06);transform-origin:50% 0">19</div><div class="t" style="left:209.0px;width:1200px;text-align:center;top:1174.80px;font-size:16px;line-height:16px;font-weight:normal;font-style:normal;color:#000;transform:scaleX(1.06);transform-origin:50% 0">21</div><div class="t" style="left:139.1px;top:1198.73px;font-size:16px;line-height:16px;font-weight:normal;font-style:normal;color:#000;transform:scaleX(0.9779);transform-origin:0 0">SIMANCAS</div><div class="t" style="left:-77.5px;width:1200px;text-align:center;top:1199.83px;font-size:16px;line-height:16px;font-weight:normal;font-style:normal;color:#000;transform:scaleX(1.06);transform-origin:50% 0">14</div><div class="t" style="left:65.5px;width:1200px;text-align:center;top:1199.83px;font-size:16px;line-height:16px;font-weight:normal;font-style:normal;color:#000;transform:scaleX(1.06);transform-origin:50% 0">13</div><div class="t" style="left:139.1px;top:1223.75px;font-size:16px;line-height:16px;font-weight:normal;font-style:normal;color:#000;transform:scaleX(0.9028);transform-origin:0 0">TORDESILLAS</div><div class="t" style="left:-77.5px;width:1200px;text-align:center;top:1224.85px;font-size:16px;line-height:16px;font-weight:normal;font-style:normal;color:#000;transform:scaleX(1.06);transform-origin:50% 0">17</div><div class="t" style="left:65.5px;width:1200px;text-align:center;top:1224.85px;font-size:16px;line-height:16px;font-weight:normal;font-style:normal;color:#000;transform:scaleX(1.06);transform-origin:50% 0">18</div><div class="t" style="left:209.0px;width:1200px;text-align:center;top:1224.85px;font-size:16px;line-height:16px;font-weight:normal;font-style:normal;color:#000;transform:scaleX(1.06);transform-origin:50% 0">19</div><div class="t" style="left:139.1px;top:1248.78px;font-size:16px;line-height:16px;font-weight:normal;font-style:normal;color:#000;transform:scaleX(0.9482);transform-origin:0 0">TUDELA DE DUERO</div><div class="t" style="left:-77.5px;width:1200px;text-align:center;top:1249.88px;font-size:16px;line-height:16px;font-weight:normal;font-style:normal;color:#000;transform:scaleX(1.06);transform-origin:50% 0">13</div><div class="t" style="left:65.5px;width:1200px;text-align:center;top:1249.88px;font-size:16px;line-height:16px;font-weight:normal;font-style:normal;color:#000;transform:scaleX(1.06);transform-origin:50% 0">17</div><div class="t" style="left:139.1px;top:1273.81px;font-size:16px;line-height:16px;font-weight:normal;font-style:normal;color:#000;transform:scaleX(0.9746);transform-origin:0 0">VALLADOLID</div><div class="t" style="left:-77.5px;width:1200px;text-align:center;top:1274.91px;font-size:16px;line-height:16px;font-weight:normal;font-style:normal;color:#000;transform:scaleX(1.06);transform-origin:50% 0">15</div><div class="t" style="left:65.5px;width:1200px;text-align:center;top:1274.91px;font-size:16px;line-height:16px;font-weight:normal;font-style:normal;color:#000;transform:scaleX(1.06);transform-origin:50% 0">17</div><div class="t" style="left:209.0px;width:1200px;text-align:center;top:1274.91px;font-size:16px;line-height:16px;font-weight:normal;font-style:normal;color:#000;transform:scaleX(1.06);transform-origin:50% 0">23</div><div class="t" style="left:353.0px;width:1200px;text-align:center;top:1274.91px;font-size:16px;line-height:16px;font-weight:normal;font-style:normal;color:#000;transform:scaleX(1.06);transform-origin:50% 0">23</div><div class="t" style="left:139.1px;top:1298.83px;font-size:16px;line-height:16px;font-weight:normal;font-style:normal;color:#000;transform:scaleX(0.9397);transform-origin:0 0">RESTO PROVINCIA</div><div class="t" style="left:-77.5px;width:1200px;text-align:center;top:1299.93px;font-size:16px;line-height:16px;font-weight:normal;font-style:normal;color:#000;transform:scaleX(1.06);transform-origin:50% 0">15</div><div class="t" style="left:65.5px;width:1200px;text-align:center;top:1299.93px;font-size:16px;line-height:16px;font-weight:normal;font-style:normal;color:#000;transform:scaleX(1.06);transform-origin:50% 0">16</div><div class="t" style="left:209.0px;width:1200px;text-align:center;top:1299.93px;font-size:16px;line-height:16px;font-weight:normal;font-style:normal;color:#000;transform:scaleX(1.06);transform-origin:50% 0">22</div><div class="t" style="left:353.0px;width:1200px;text-align:center;top:1299.93px;font-size:16px;line-height:16px;font-weight:normal;font-style:normal;color:#000;transform:scaleX(1.06);transform-origin:50% 0">19</div><div class="t" style="left:15.2px;top:1323.86px;font-size:16px;line-height:16px;font-weight:normal;font-style:normal;color:#000;transform:scaleX(0.9793);transform-origin:0 0">ZAMORA</div><div class="t" style="left:139.1px;top:1323.86px;font-size:16px;line-height:16px;font-weight:normal;font-style:normal;color:#000;transform:scaleX(0.9665);transform-origin:0 0">BENAVENTE</div><div class="t" style="left:-77.5px;width:1200px;text-align:center;top:1324.96px;font-size:16px;line-height:16px;font-weight:normal;font-style:normal;color:#000;transform:scaleX(1.06);transform-origin:50% 0">14</div><div class="t" style="left:65.5px;width:1200px;text-align:center;top:1324.96px;font-size:16px;line-height:16px;font-weight:normal;font-style:normal;color:#000;transform:scaleX(1.06);transform-origin:50% 0">16</div><div class="t" style="left:139.1px;top:1348.89px;font-size:16px;line-height:16px;font-weight:normal;font-style:normal;color:#000;transform:scaleX(0.9497);transform-origin:0 0">TORO</div><div class="t" style="left:-77.5px;width:1200px;text-align:center;top:1349.99px;font-size:16px;line-height:16px;font-weight:normal;font-style:normal;color:#000;transform:scaleX(1.06);transform-origin:50% 0">13</div><div class="t" style="left:65.5px;width:1200px;text-align:center;top:1349.99px;font-size:16px;line-height:16px;font-weight:normal;font-style:normal;color:#000;transform:scaleX(1.06);transform-origin:50% 0">15</div><div class="t" style="left:139.1px;top:1373.92px;font-size:16px;line-height:16px;font-weight:normal;font-style:normal;color:#000;transform:scaleX(0.9793);transform-origin:0 0">ZAMORA</div><div class="t" style="left:-77.5px;width:1200px;text-align:center;top:1375.02px;font-size:16px;line-height:16px;font-weight:normal;font-style:normal;color:#000;transform:scaleX(1.06);transform-origin:50% 0">15</div><div class="t" style="left:65.5px;width:1200px;text-align:center;top:1375.02px;font-size:16px;line-height:16px;font-weight:normal;font-style:normal;color:#000;transform:scaleX(1.06);transform-origin:50% 0">17</div><div class="t" style="left:353.0px;width:1200px;text-align:center;top:1375.02px;font-size:16px;line-height:16px;font-weight:normal;font-style:normal;color:#000;transform:scaleX(1.06);transform-origin:50% 0">17</div><div class="t" style="left:139.1px;top:1398.94px;font-size:16px;line-height:16px;font-weight:normal;font-style:normal;color:#000;transform:scaleX(0.9397);transform-origin:0 0">RESTO PROVINCIA</div><div class="t" style="left:-77.5px;width:1200px;text-align:center;top:1400.04px;font-size:16px;line-height:16px;font-weight:normal;font-style:normal;color:#000;transform:scaleX(1.06);transform-origin:50% 0">13</div><div class="t" style="left:65.5px;width:1200px;text-align:center;top:1400.04px;font-size:16px;line-height:16px;font-weight:normal;font-style:normal;color:#000;transform:scaleX(1.06);transform-origin:50% 0">13</div><div class="t" style="left:353.0px;width:1200px;text-align:center;top:1400.04px;font-size:16px;line-height:16px;font-weight:normal;font-style:normal;color:#000;transform:scaleX(1.06);transform-origin:50% 0">14</div><div class="t" style="left:16.4px;top:1425.51px;font-size:17.4px;line-height:17.4px;font-weight:normal;font-style:italic;color:#000;transform:scaleX(1.024);transform-origin:0 0">BOCyL 23-03-2026</div><div class="t" style="left:472.8px;top:189.67px;font-size:16.5px;line-height:16.5px;font-weight:bold;font-style:normal;color:#000;transform:scaleX(0.975);transform-origin:0 0">INFANTIL, 2</div><svg style="position:absolute;left:560px;top:188px" width="16" height="18" viewBox="560 188 16 18"><ellipse cx="567.2" cy="195.7" rx="2.5" ry="2.65" fill="none" stroke="#000" stroke-width="1.75"/><rect x="564.2" y="200.3" width="6.2" height="1.8" fill="#000"/></svg>
</div></body></html>
